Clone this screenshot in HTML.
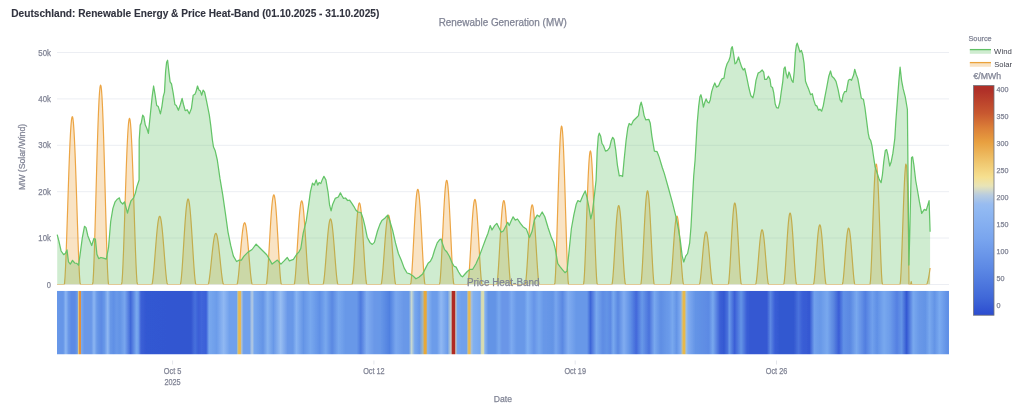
<!DOCTYPE html><html><head><meta charset="utf-8"><style>html,body{margin:0;padding:0;background:#fff;width:1024px;height:412px;overflow:hidden}svg{display:block;will-change:transform}</style></head><body><svg width="1024" height="412" viewBox="0 0 1024 412" font-family="Liberation Sans, sans-serif">
<defs><linearGradient id="hg" gradientUnits="userSpaceOnUse" x1="57" y1="0" x2="949" y2="0"><stop offset="0.00000" stop-color="#6898e8"/>
<stop offset="0.00336" stop-color="#6696e8"/>
<stop offset="0.00695" stop-color="#6696e8"/>
<stop offset="0.00987" stop-color="#8cb6f2"/>
<stop offset="0.01289" stop-color="#6a98e8"/>
<stop offset="0.01614" stop-color="#5c8ae4"/>
<stop offset="0.02018" stop-color="#5c8ae4"/>
<stop offset="0.02287" stop-color="#6a9ae8"/>
<stop offset="0.02388" stop-color="#e0d088"/>
<stop offset="0.02522" stop-color="#e09040"/>
<stop offset="0.02668" stop-color="#e09040"/>
<stop offset="0.02747" stop-color="#78a8ee"/>
<stop offset="0.03061" stop-color="#6a98e8"/>
<stop offset="0.03845" stop-color="#6a98e8"/>
<stop offset="0.04148" stop-color="#8cb6f2"/>
<stop offset="0.04484" stop-color="#6898e8"/>
<stop offset="0.04966" stop-color="#5c8ae4"/>
<stop offset="0.05325" stop-color="#6898e8"/>
<stop offset="0.05684" stop-color="#90b8f2"/>
<stop offset="0.05998" stop-color="#6898e8"/>
<stop offset="0.06345" stop-color="#6090e6"/>
<stop offset="0.06670" stop-color="#6898e8"/>
<stop offset="0.07063" stop-color="#6494e6"/>
<stop offset="0.07590" stop-color="#78a6ee"/>
<stop offset="0.08251" stop-color="#4068d8"/>
<stop offset="0.08901" stop-color="#78a8ee"/>
<stop offset="0.09103" stop-color="#70a0ec"/>
<stop offset="0.09417" stop-color="#3c60d6"/>
<stop offset="0.09955" stop-color="#3358d2"/>
<stop offset="0.15022" stop-color="#3356d0"/>
<stop offset="0.15471" stop-color="#4670dc"/>
<stop offset="0.15863" stop-color="#3a5ed6"/>
<stop offset="0.16200" stop-color="#4066da"/>
<stop offset="0.16715" stop-color="#3a60d8"/>
<stop offset="0.17052" stop-color="#78a8ee"/>
<stop offset="0.17904" stop-color="#6c9cea"/>
<stop offset="0.18688" stop-color="#90b8f2"/>
<stop offset="0.19350" stop-color="#70a0ec"/>
<stop offset="0.20135" stop-color="#70a0ec"/>
<stop offset="0.20269" stop-color="#c0c8a0"/>
<stop offset="0.20370" stop-color="#e8b850"/>
<stop offset="0.20561" stop-color="#e8b850"/>
<stop offset="0.20695" stop-color="#a8c0d8"/>
<stop offset="0.20919" stop-color="#70a0ec"/>
<stop offset="0.21581" stop-color="#70a0ec"/>
<stop offset="0.21872" stop-color="#b8cce0"/>
<stop offset="0.22108" stop-color="#78a8ee"/>
<stop offset="0.23094" stop-color="#6494e6"/>
<stop offset="0.23621" stop-color="#88b4f0"/>
<stop offset="0.24271" stop-color="#6898e8"/>
<stop offset="0.25067" stop-color="#98bef2"/>
<stop offset="0.25852" stop-color="#6a98e8"/>
<stop offset="0.26446" stop-color="#6898e8"/>
<stop offset="0.26839" stop-color="#88b4f2"/>
<stop offset="0.27623" stop-color="#6494e6"/>
<stop offset="0.28408" stop-color="#78a8ee"/>
<stop offset="0.29462" stop-color="#6090e6"/>
<stop offset="0.30123" stop-color="#78a8ee"/>
<stop offset="0.30841" stop-color="#5a88e2"/>
<stop offset="0.31570" stop-color="#78a8ee"/>
<stop offset="0.32354" stop-color="#6898e8"/>
<stop offset="0.33599" stop-color="#6898e8"/>
<stop offset="0.34058" stop-color="#4e7ade"/>
<stop offset="0.34720" stop-color="#80acf0"/>
<stop offset="0.35572" stop-color="#6a98e8"/>
<stop offset="0.36222" stop-color="#6898e8"/>
<stop offset="0.37276" stop-color="#5080e0"/>
<stop offset="0.38004" stop-color="#78a6ee"/>
<stop offset="0.38857" stop-color="#6a98e8"/>
<stop offset="0.39451" stop-color="#6898e8"/>
<stop offset="0.39742" stop-color="#c8d8d0"/>
<stop offset="0.40101" stop-color="#78a8ee"/>
<stop offset="0.40628" stop-color="#6898e8"/>
<stop offset="0.41020" stop-color="#a0b8c0"/>
<stop offset="0.41188" stop-color="#e8a838"/>
<stop offset="0.41379" stop-color="#e8a838"/>
<stop offset="0.41547" stop-color="#88b4f0"/>
<stop offset="0.42074" stop-color="#6c9cea"/>
<stop offset="0.42601" stop-color="#6c9cea"/>
<stop offset="0.43061" stop-color="#90b8f2"/>
<stop offset="0.43778" stop-color="#6c9cea"/>
<stop offset="0.44170" stop-color="#c8d4c8"/>
<stop offset="0.44339" stop-color="#b02a22"/>
<stop offset="0.44596" stop-color="#b02a22"/>
<stop offset="0.44697" stop-color="#c8c8c0"/>
<stop offset="0.44899" stop-color="#78a8ee"/>
<stop offset="0.45359" stop-color="#70a0ec"/>
<stop offset="0.45919" stop-color="#70a0ec"/>
<stop offset="0.46054" stop-color="#c0c0a0"/>
<stop offset="0.46155" stop-color="#e8b850"/>
<stop offset="0.46312" stop-color="#e8b850"/>
<stop offset="0.46413" stop-color="#a8c0d8"/>
<stop offset="0.46704" stop-color="#80b0f0"/>
<stop offset="0.47433" stop-color="#78a8ee"/>
<stop offset="0.47601" stop-color="#d8dcb0"/>
<stop offset="0.47825" stop-color="#d8dcb0"/>
<stop offset="0.47960" stop-color="#88b4f0"/>
<stop offset="0.48352" stop-color="#6494e6"/>
<stop offset="0.49137" stop-color="#6494e6"/>
<stop offset="0.49552" stop-color="#78a8ee"/>
<stop offset="0.49888" stop-color="#6a96e8"/>
<stop offset="0.50561" stop-color="#6a96e8"/>
<stop offset="0.50953" stop-color="#7caaf0"/>
<stop offset="0.51536" stop-color="#6898e8"/>
<stop offset="0.52388" stop-color="#6898e8"/>
<stop offset="0.52769" stop-color="#80b0f2"/>
<stop offset="0.53475" stop-color="#6694e8"/>
<stop offset="0.54036" stop-color="#78a8ee"/>
<stop offset="0.54552" stop-color="#6898e8"/>
<stop offset="0.55605" stop-color="#6494e6"/>
<stop offset="0.55930" stop-color="#78a6ee"/>
<stop offset="0.56659" stop-color="#5a88e2"/>
<stop offset="0.57309" stop-color="#80acf0"/>
<stop offset="0.58229" stop-color="#6898e8"/>
<stop offset="0.59417" stop-color="#6898e8"/>
<stop offset="0.59809" stop-color="#3e66d8"/>
<stop offset="0.60471" stop-color="#78a8ee"/>
<stop offset="0.61188" stop-color="#5e8ce4"/>
<stop offset="0.61648" stop-color="#6494e6"/>
<stop offset="0.62040" stop-color="#5c8ae4"/>
<stop offset="0.62365" stop-color="#78a8ee"/>
<stop offset="0.62892" stop-color="#5a88e2"/>
<stop offset="0.63554" stop-color="#80acf0"/>
<stop offset="0.64271" stop-color="#6090e6"/>
<stop offset="0.64933" stop-color="#4268da"/>
<stop offset="0.65583" stop-color="#6898e8"/>
<stop offset="0.66379" stop-color="#4a72dc"/>
<stop offset="0.66973" stop-color="#78a8ee"/>
<stop offset="0.67691" stop-color="#5f8ee4"/>
<stop offset="0.68352" stop-color="#6898e8"/>
<stop offset="0.68610" stop-color="#6a9aea"/>
<stop offset="0.69002" stop-color="#78a8ee"/>
<stop offset="0.69462" stop-color="#6494e6"/>
<stop offset="0.69922" stop-color="#80acf0"/>
<stop offset="0.70090" stop-color="#c0c0a0"/>
<stop offset="0.70191" stop-color="#e8b848"/>
<stop offset="0.70381" stop-color="#e8b848"/>
<stop offset="0.70516" stop-color="#a0c0e0"/>
<stop offset="0.70774" stop-color="#80acf0"/>
<stop offset="0.71570" stop-color="#6494e6"/>
<stop offset="0.73072" stop-color="#5c8ae4"/>
<stop offset="0.73531" stop-color="#78a8ee"/>
<stop offset="0.74327" stop-color="#3c60d6"/>
<stop offset="0.74787" stop-color="#3358d2"/>
<stop offset="0.75179" stop-color="#4a72dc"/>
<stop offset="0.75370" stop-color="#6898e8"/>
<stop offset="0.75964" stop-color="#3a5ed6"/>
<stop offset="0.76693" stop-color="#6494e6"/>
<stop offset="0.77343" stop-color="#3a5ed6"/>
<stop offset="0.77735" stop-color="#3558d2"/>
<stop offset="0.79574" stop-color="#3558d2"/>
<stop offset="0.79978" stop-color="#5c88e2"/>
<stop offset="0.80493" stop-color="#3a5ed6"/>
<stop offset="0.81020" stop-color="#3358d0"/>
<stop offset="0.82601" stop-color="#3358d0"/>
<stop offset="0.83128" stop-color="#4a72dc"/>
<stop offset="0.83587" stop-color="#3a5ed6"/>
<stop offset="0.84372" stop-color="#3558d2"/>
<stop offset="0.84899" stop-color="#70a0ec"/>
<stop offset="0.85549" stop-color="#6898e8"/>
<stop offset="0.86345" stop-color="#78a8ee"/>
<stop offset="0.87063" stop-color="#5a86e0"/>
<stop offset="0.87657" stop-color="#3a5ed6"/>
<stop offset="0.88184" stop-color="#6090e6"/>
<stop offset="0.88901" stop-color="#5a88e2"/>
<stop offset="0.89630" stop-color="#78a8ee"/>
<stop offset="0.90617" stop-color="#527ee0"/>
<stop offset="0.91401" stop-color="#70a0ec"/>
<stop offset="0.91928" stop-color="#6090e6"/>
<stop offset="0.92713" stop-color="#78a8ee"/>
<stop offset="0.93374" stop-color="#6c9cea"/>
<stop offset="0.94159" stop-color="#5580e2"/>
<stop offset="0.94686" stop-color="#6494e6"/>
<stop offset="0.95247" stop-color="#3358d2"/>
<stop offset="0.95987" stop-color="#78a8ee"/>
<stop offset="0.96670" stop-color="#6898e8"/>
<stop offset="0.97354" stop-color="#6494e6"/>
<stop offset="0.97814" stop-color="#78a8ee"/>
<stop offset="0.98386" stop-color="#6494e6"/>
<stop offset="0.98946" stop-color="#7aaaf0"/>
<stop offset="0.99798" stop-color="#6090e6"/>
<stop offset="1.00000" stop-color="#6090e6"/></linearGradient>
<filter id="hb" x="-0.02" y="0" width="1.04" height="1"><feGaussianBlur stdDeviation="0.4 0"/></filter><linearGradient id="cg" x1="0" y1="0" x2="0" y2="1"><stop offset="0.0000" stop-color="#b03028"/>
<stop offset="0.0208" stop-color="#b03028"/>
<stop offset="0.1207" stop-color="#c85830"/>
<stop offset="0.1858" stop-color="#dc8038"/>
<stop offset="0.2466" stop-color="#e8a040"/>
<stop offset="0.3378" stop-color="#f0c870"/>
<stop offset="0.3986" stop-color="#f6e090"/>
<stop offset="0.4377" stop-color="#e8e4b8"/>
<stop offset="0.4768" stop-color="#b8cce0"/>
<stop offset="0.5158" stop-color="#98bcf0"/>
<stop offset="0.5445" stop-color="#90b8f2"/>
<stop offset="0.6722" stop-color="#78a4ee"/>
<stop offset="0.7981" stop-color="#5c88e4"/>
<stop offset="0.9240" stop-color="#4068d8"/>
<stop offset="1.0000" stop-color="#2c4ccf"/></linearGradient></defs>
<rect width="1024" height="412" fill="#fff"/>
<line x1="57" y1="52.5" x2="949" y2="52.5" stroke="#eceef3" stroke-width="1"/>
<line x1="57" y1="98.9" x2="949" y2="98.9" stroke="#eceef3" stroke-width="1"/>
<line x1="57" y1="145.3" x2="949" y2="145.3" stroke="#eceef3" stroke-width="1"/>
<line x1="57" y1="191.7" x2="949" y2="191.7" stroke="#eceef3" stroke-width="1"/>
<line x1="57" y1="238.0" x2="949" y2="238.0" stroke="#eceef3" stroke-width="1"/>
<line x1="57" y1="284.5" x2="949" y2="284.5" stroke="#eceef3" stroke-width="1"/>
<text x="38.30" y="55.60" font-size="8.4" font-weight="normal" fill="#808495" stroke="#808495" stroke-width="0.25" textLength="12.60" lengthAdjust="spacingAndGlyphs">50k</text>
<text x="38.30" y="102.00" font-size="8.4" font-weight="normal" fill="#808495" stroke="#808495" stroke-width="0.25" textLength="12.60" lengthAdjust="spacingAndGlyphs">40k</text>
<text x="38.30" y="148.40" font-size="8.4" font-weight="normal" fill="#808495" stroke="#808495" stroke-width="0.25" textLength="12.60" lengthAdjust="spacingAndGlyphs">30k</text>
<text x="38.30" y="194.80" font-size="8.4" font-weight="normal" fill="#808495" stroke="#808495" stroke-width="0.25" textLength="12.60" lengthAdjust="spacingAndGlyphs">20k</text>
<text x="38.30" y="241.10" font-size="8.4" font-weight="normal" fill="#808495" stroke="#808495" stroke-width="0.25" textLength="12.60" lengthAdjust="spacingAndGlyphs">10k</text>
<text x="46.70" y="287.60" font-size="8.4" font-weight="normal" fill="#808495" stroke="#808495" stroke-width="0.25" textLength="4.20" lengthAdjust="spacingAndGlyphs">0</text>
<clipPath id="pc"><rect x="56" y="30" width="894" height="254.6"/></clipPath><g clip-path="url(#pc)">
<path d="M57.0,284.5 L57.0,284.5 57.5,284.5 58.0,284.5 58.5,284.5 59.0,284.5 59.5,284.5 60.0,284.5 60.5,284.5 61.0,284.5 61.5,284.5 62.0,284.5 62.5,284.5 63.0,284.5 63.5,284.5 64.0,284.5 64.5,283.6 65.0,277.5 65.5,268.1 66.0,256.3 66.5,242.8 67.0,228.1 67.5,212.7 68.0,197.2 68.5,182.0 69.0,167.6 69.5,154.3 70.0,142.6 70.5,132.8 71.0,125.1 71.5,119.8 72.0,117.0 72.5,116.7 73.0,119.0 73.5,123.9 74.0,131.1 74.5,140.5 75.0,151.8 75.5,164.8 76.0,179.0 76.5,194.1 77.0,209.6 77.5,225.0 78.0,239.9 78.5,253.7 79.0,265.9 79.5,275.9 80.0,282.7 80.5,284.5 81.0,284.5 81.5,284.5 82.0,284.5 82.5,284.5 83.0,284.5 83.5,284.5 84.0,284.5 84.5,284.5 85.0,284.5 85.5,284.5 86.0,284.5 86.5,284.5 87.0,284.5 87.5,284.5 88.0,284.5 88.5,284.5 89.0,284.5 89.5,284.5 90.0,284.5 90.5,284.5 91.0,284.5 91.5,284.5 92.0,284.5 92.5,284.5 93.0,281.9 93.5,273.4 94.0,261.2 94.5,246.4 95.0,229.7 95.5,211.8 96.0,193.3 96.5,174.7 97.0,156.8 97.5,140.0 98.0,124.7 98.5,111.5 99.0,100.6 99.5,92.5 100.0,87.2 100.5,85.1 101.0,86.0 101.5,90.0 102.0,97.0 102.5,106.8 103.0,119.2 103.5,133.7 104.0,149.9 104.5,167.5 105.0,185.8 105.5,204.4 106.0,222.6 106.5,239.9 107.0,255.6 107.5,268.9 108.0,279.0 108.5,284.4 109.0,284.5 109.5,284.5 110.0,284.5 110.5,284.5 111.0,284.5 111.5,284.5 112.0,284.5 112.5,284.5 113.0,284.5 113.5,284.5 114.0,284.5 114.5,284.5 115.0,284.5 115.5,284.5 116.0,284.5 116.5,284.5 117.0,284.5 117.5,284.5 118.0,284.5 118.5,284.5 119.0,284.5 119.5,284.5 120.0,284.5 120.5,284.5 121.0,284.5 121.5,284.5 122.0,281.9 122.5,274.5 123.0,264.0 123.5,251.4 124.0,237.3 124.5,222.1 125.0,206.5 125.5,191.0 126.0,176.1 126.5,162.1 127.0,149.5 127.5,138.7 128.0,130.0 128.5,123.5 129.0,119.6 129.5,118.3 130.0,119.6 130.5,123.5 131.0,130.0 131.5,138.7 132.0,149.5 132.5,162.1 133.0,176.1 133.5,191.0 134.0,206.5 134.5,222.1 135.0,237.3 135.5,251.4 136.0,264.0 136.5,274.5 137.0,281.9 137.5,284.5 138.0,284.5 138.5,284.5 139.0,284.5 139.5,284.5 140.0,284.5 140.5,284.5 141.0,284.5 141.5,284.5 142.0,284.5 142.5,284.5 143.0,284.5 143.5,284.5 144.0,284.5 144.5,284.5 145.0,284.5 145.5,284.5 146.0,284.5 146.5,284.5 147.0,284.5 147.5,284.5 148.0,284.5 148.5,284.5 149.0,284.5 149.5,284.5 150.0,284.5 150.5,284.5 151.0,284.5 151.5,284.5 152.0,284.4 152.5,282.2 153.0,278.4 153.5,273.6 154.0,268.0 154.5,261.9 155.0,255.5 155.5,249.1 156.0,242.7 156.5,236.7 157.0,231.2 157.5,226.4 158.0,222.4 158.5,219.3 159.0,217.3 159.5,216.3 160.0,216.4 160.5,217.6 161.0,219.9 161.5,223.2 162.0,227.3 162.5,232.3 163.0,237.9 163.5,244.0 164.0,250.4 164.5,256.8 165.0,263.2 165.5,269.2 166.0,274.6 166.5,279.3 167.0,282.7 167.5,284.5 168.0,284.5 168.5,284.5 169.0,284.5 169.5,284.5 170.0,284.5 170.5,284.5 171.0,284.5 171.5,284.5 172.0,284.5 172.5,284.5 173.0,284.5 173.5,284.5 174.0,284.5 174.5,284.5 175.0,284.5 175.5,284.5 176.0,284.5 176.5,284.5 177.0,284.5 177.5,284.5 178.0,284.5 178.5,284.5 179.0,284.5 179.5,284.5 180.0,284.5 180.5,284.2 181.0,281.3 181.5,276.4 182.0,270.2 182.5,263.1 183.0,255.3 183.5,247.2 184.0,239.1 184.5,231.1 185.0,223.6 185.5,216.8 186.0,210.9 186.5,206.0 187.0,202.4 187.5,200.0 188.0,199.0 188.5,199.5 189.0,201.3 189.5,204.4 190.0,208.8 190.5,214.3 191.0,220.8 191.5,228.1 192.0,235.9 192.5,244.0 193.0,252.1 193.5,260.1 194.0,267.5 194.5,274.1 195.0,279.5 195.5,283.3 196.0,284.5 196.5,284.5 197.0,284.5 197.5,284.5 198.0,284.5 198.5,284.5 199.0,284.5 199.5,284.5 200.0,284.5 200.5,284.5 201.0,284.5 201.5,284.5 202.0,284.5 202.5,284.5 203.0,284.5 203.5,284.5 204.0,284.5 204.5,284.5 205.0,284.5 205.5,284.5 206.0,284.5 206.5,284.5 207.0,284.5 207.5,284.5 208.0,284.5 208.5,283.7 209.0,281.3 209.5,277.9 210.0,273.9 210.5,269.3 211.0,264.5 211.5,259.6 212.0,254.7 212.5,250.1 213.0,245.7 213.5,241.9 214.0,238.7 214.5,236.2 215.0,234.4 215.5,233.5 216.0,233.4 216.5,234.1 217.0,235.7 217.5,238.1 218.0,241.2 218.5,244.9 219.0,249.2 219.5,253.8 220.0,258.6 220.5,263.6 221.0,268.4 221.5,273.0 222.0,277.1 222.5,280.7 223.0,283.3 223.5,284.5 224.0,284.5 224.5,284.5 225.0,284.5 225.5,284.5 226.0,284.5 226.5,284.5 227.0,284.5 227.5,284.5 228.0,284.5 228.5,284.5 229.0,284.5 229.5,284.5 230.0,284.5 230.5,284.5 231.0,284.5 231.5,284.5 232.0,284.5 232.5,284.5 233.0,284.5 233.5,284.5 234.0,284.5 234.5,284.5 235.0,284.5 235.5,284.5 236.0,284.5 236.5,284.5 237.0,284.5 237.5,282.8 238.0,279.5 238.5,275.2 239.0,270.1 239.5,264.4 240.0,258.5 240.5,252.5 241.0,246.6 241.5,241.1 242.0,236.0 242.5,231.6 243.0,228.0 243.5,225.2 244.0,223.5 244.5,222.7 245.0,223.0 245.5,224.4 246.0,226.7 246.5,230.0 247.0,234.2 247.5,239.0 248.0,244.4 248.5,250.1 249.0,256.1 249.5,262.1 250.0,267.9 250.5,273.2 251.0,277.9 251.5,281.7 252.0,284.1 252.5,284.5 253.0,284.5 253.5,284.5 254.0,284.5 254.5,284.5 255.0,284.5 255.5,284.5 256.0,284.5 256.5,284.5 257.0,284.5 257.5,284.5 258.0,284.5 258.5,284.5 259.0,284.5 259.5,284.5 260.0,284.5 260.5,284.5 261.0,284.5 261.5,284.5 262.0,284.5 262.5,284.5 263.0,284.5 263.5,284.5 264.0,284.5 264.5,284.5 265.0,284.5 265.5,284.5 266.0,284.5 266.5,283.7 267.0,280.0 267.5,274.3 268.0,267.4 268.5,259.5 269.0,250.9 269.5,242.2 270.0,233.5 270.5,225.1 271.0,217.3 271.5,210.4 272.0,204.6 272.5,200.0 273.0,196.8 273.5,195.1 274.0,194.9 274.5,196.3 275.0,199.2 275.5,203.5 276.0,209.1 276.5,215.8 277.0,223.5 277.5,231.7 278.0,240.4 278.5,249.2 279.0,257.8 279.5,265.8 280.0,273.0 280.5,279.0 281.0,283.2 281.5,284.5 282.0,284.5 282.5,284.5 283.0,284.5 283.5,284.5 284.0,284.5 284.5,284.5 285.0,284.5 285.5,284.5 286.0,284.5 286.5,284.5 287.0,284.5 287.5,284.5 288.0,284.5 288.5,284.5 289.0,284.5 289.5,284.5 290.0,284.5 290.5,284.5 291.0,284.5 291.5,284.5 292.0,284.5 292.5,284.5 293.0,284.5 293.5,284.5 294.0,284.5 294.5,283.6 295.0,279.9 295.5,274.5 296.0,267.8 296.5,260.3 297.0,252.2 297.5,244.0 298.0,235.8 298.5,228.0 299.0,220.8 299.5,214.4 300.0,209.1 300.5,205.0 301.0,202.2 301.5,200.9 302.0,201.1 302.5,202.7 303.0,205.7 303.5,210.1 304.0,215.6 304.5,222.1 305.0,229.5 305.5,237.4 306.0,245.6 306.5,253.9 307.0,261.8 307.5,269.2 308.0,275.7 308.5,280.8 309.0,284.1 309.5,284.5 310.0,284.5 310.5,284.5 311.0,284.5 311.5,284.5 312.0,284.5 312.5,284.5 313.0,284.5 313.5,284.5 314.0,284.5 314.5,284.5 315.0,284.5 315.5,284.5 316.0,284.5 316.5,284.5 317.0,284.5 317.5,284.5 318.0,284.5 318.5,284.5 319.0,284.5 319.5,284.5 320.0,284.5 320.5,284.5 321.0,284.5 321.5,284.5 322.0,284.5 322.5,284.5 323.0,284.5 323.5,283.2 324.0,279.8 324.5,275.2 325.0,269.7 325.5,263.6 326.0,257.2 326.5,250.6 327.0,244.3 327.5,238.2 328.0,232.8 328.5,228.0 329.0,224.2 329.5,221.3 330.0,219.6 330.5,219.0 331.0,219.6 331.5,221.3 332.0,224.2 332.5,228.0 333.0,232.8 333.5,238.2 334.0,244.3 334.5,250.6 335.0,257.2 335.5,263.6 336.0,269.7 336.5,275.2 337.0,279.8 337.5,283.2 338.0,284.5 338.5,284.5 339.0,284.5 339.5,284.5 340.0,284.5 340.5,284.5 341.0,284.5 341.5,284.5 342.0,284.5 342.5,284.5 343.0,284.5 343.5,284.5 344.0,284.5 344.5,284.5 345.0,284.5 345.5,284.5 346.0,284.5 346.5,284.5 347.0,284.5 347.5,284.5 348.0,284.5 348.5,284.5 349.0,284.5 349.5,284.5 350.0,284.5 350.5,284.5 351.0,284.5 351.5,284.5 352.0,284.5 352.5,282.6 353.0,278.2 353.5,272.3 354.0,265.3 354.5,257.6 355.0,249.5 355.5,241.3 356.0,233.3 356.5,225.8 357.0,219.0 357.5,213.3 358.0,208.6 358.5,205.3 359.0,203.4 359.5,202.9 360.0,204.0 360.5,206.5 361.0,210.3 361.5,215.4 362.0,221.6 362.5,228.7 363.0,236.4 363.5,244.5 364.0,252.7 364.5,260.7 365.0,268.2 365.5,274.8 366.0,280.2 366.5,283.7 367.0,284.5 367.5,284.5 368.0,284.5 368.5,284.5 369.0,284.5 369.5,284.5 370.0,284.5 370.5,284.5 371.0,284.5 371.5,284.5 372.0,284.5 372.5,284.5 373.0,284.5 373.5,284.5 374.0,284.5 374.5,284.5 375.0,284.5 375.5,284.5 376.0,284.5 376.5,284.5 377.0,284.5 377.5,284.5 378.0,284.5 378.5,284.5 379.0,284.5 379.5,284.5 380.0,284.5 380.5,284.5 381.0,284.5 381.5,283.2 382.0,279.6 382.5,274.7 383.0,268.8 383.5,262.2 384.0,255.3 384.5,248.2 385.0,241.3 385.5,234.9 386.0,229.1 386.5,224.1 387.0,220.1 387.5,217.2 388.0,215.5 388.5,215.1 389.0,216.0 389.5,218.2 390.0,221.5 390.5,225.9 391.0,231.3 391.5,237.4 392.0,244.1 392.5,251.0 393.0,258.1 393.5,264.9 394.0,271.2 394.5,276.8 395.0,281.3 395.5,284.1 396.0,284.5 396.5,284.5 397.0,284.5 397.5,284.5 398.0,284.5 398.5,284.5 399.0,284.5 399.5,284.5 400.0,284.5 400.5,284.5 401.0,284.5 401.5,284.5 402.0,284.5 402.5,284.5 403.0,284.5 403.5,284.5 404.0,284.5 404.5,284.5 405.0,284.5 405.5,284.5 406.0,284.5 406.5,284.5 407.0,284.5 407.5,284.5 408.0,284.5 408.5,284.5 409.0,284.5 409.5,284.5 410.0,284.5 410.5,284.5 411.0,282.4 411.5,277.3 412.0,270.3 412.5,262.0 413.0,252.8 413.5,243.2 414.0,233.5 414.5,224.0 415.0,215.2 415.5,207.3 416.0,200.6 416.5,195.3 417.0,191.6 417.5,189.6 418.0,189.4 418.5,191.1 419.0,194.4 419.5,199.4 420.0,205.8 420.5,213.5 421.0,222.2 421.5,231.5 422.0,241.2 422.5,250.9 423.0,260.2 423.5,268.8 424.0,276.1 424.5,281.6 425.0,284.5 425.5,284.5 426.0,284.5 426.5,284.5 427.0,284.5 427.5,284.5 428.0,284.5 428.5,284.5 429.0,284.5 429.5,284.5 430.0,284.5 430.5,284.5 431.0,284.5 431.5,284.5 432.0,284.5 432.5,284.5 433.0,284.5 433.5,284.5 434.0,284.5 434.5,284.5 435.0,284.5 435.5,284.5 436.0,284.5 436.5,284.5 437.0,284.5 437.5,284.5 438.0,284.5 438.5,284.5 439.0,284.5 439.5,284.5 440.0,281.9 440.5,276.0 441.0,268.2 441.5,258.9 442.0,248.6 442.5,237.9 443.0,227.2 443.5,216.8 444.0,207.2 444.5,198.6 445.0,191.4 445.5,185.9 446.0,182.2 446.5,180.4 447.0,180.6 447.5,182.8 448.0,186.9 448.5,192.8 449.0,200.2 449.5,209.0 450.0,218.8 450.5,229.3 451.0,240.1 451.5,250.7 452.0,260.8 452.5,269.9 453.0,277.4 453.5,282.7 454.0,284.5 454.5,284.5 455.0,284.5 455.5,284.5 456.0,284.5 456.5,284.5 457.0,284.5 457.5,284.5 458.0,284.5 458.5,284.5 459.0,284.5 459.5,284.5 460.0,284.5 460.5,284.5 461.0,284.5 461.5,284.5 462.0,284.5 462.5,284.5 463.0,284.5 463.5,284.5 464.0,284.5 464.5,284.5 465.0,284.5 465.5,284.5 466.0,284.5 466.5,284.5 467.0,284.5 467.5,284.5 468.0,284.0 468.5,280.3 469.0,274.6 469.5,267.5 470.0,259.4 470.5,250.7 471.0,241.9 471.5,233.1 472.0,224.9 472.5,217.4 473.0,211.0 473.5,205.8 474.0,202.1 474.5,199.9 475.0,199.4 475.5,200.6 476.0,203.4 476.5,207.7 477.0,213.4 477.5,220.3 478.0,228.1 478.5,236.6 479.0,245.4 479.5,254.2 480.0,262.7 480.5,270.5 481.0,277.1 481.5,282.1 482.0,284.5 482.5,284.5 483.0,284.5 483.5,284.5 484.0,284.5 484.5,284.5 485.0,284.5 485.5,284.5 486.0,284.5 486.5,284.5 487.0,284.5 487.5,284.5 488.0,284.5 488.5,284.5 489.0,284.5 489.5,284.5 490.0,284.5 490.5,284.5 491.0,284.5 491.5,284.5 492.0,284.5 492.5,284.5 493.0,284.5 493.5,284.5 494.0,284.5 494.5,284.5 495.0,284.5 495.5,284.5 496.0,284.5 496.5,284.5 497.0,283.8 497.5,280.0 498.0,274.1 498.5,266.9 499.0,258.8 499.5,250.1 500.0,241.3 500.5,232.6 501.0,224.5 501.5,217.2 502.0,211.0 502.5,206.1 503.0,202.6 503.5,200.8 504.0,200.6 504.5,202.1 505.0,205.3 505.5,209.9 506.0,215.9 506.5,223.0 507.0,230.9 507.5,239.5 508.0,248.3 508.5,257.1 509.0,265.4 509.5,272.8 510.0,278.9 510.5,283.2 511.0,284.5 511.5,284.5 512.0,284.5 512.5,284.5 513.0,284.5 513.5,284.5 514.0,284.5 514.5,284.5 515.0,284.5 515.5,284.5 516.0,284.5 516.5,284.5 517.0,284.5 517.5,284.5 518.0,284.5 518.5,284.5 519.0,284.5 519.5,284.5 520.0,284.5 520.5,284.5 521.0,284.5 521.5,284.5 522.0,284.5 522.5,284.5 523.0,284.5 523.5,284.5 524.0,284.5 524.5,284.5 525.0,284.5 525.5,283.6 526.0,279.8 526.5,274.1 527.0,267.1 527.5,259.2 528.0,250.8 528.5,242.4 529.0,234.2 529.5,226.5 530.0,219.6 530.5,213.9 531.0,209.4 531.5,206.4 532.0,204.9 532.5,205.1 533.0,206.9 533.5,210.2 534.0,214.9 534.5,220.9 535.0,228.0 535.5,235.8 536.0,244.1 536.5,252.5 537.0,260.8 537.5,268.5 538.0,275.3 538.5,280.7 539.0,284.1 539.5,284.5 540.0,284.5 540.5,284.5 541.0,284.5 541.5,284.5 542.0,284.5 542.5,284.5 543.0,284.5 543.5,284.5 544.0,284.5 544.5,284.5 545.0,284.5 545.5,284.5 546.0,284.5 546.5,284.5 547.0,284.5 547.5,284.5 548.0,284.5 548.5,284.5 549.0,284.5 549.5,284.5 550.0,284.5 550.5,284.5 551.0,284.5 551.5,284.5 552.0,284.5 552.5,284.5 553.0,284.5 553.5,284.5 554.0,284.5 554.5,284.5 555.0,282.4 555.5,274.3 556.0,262.5 556.5,248.2 557.0,232.3 557.5,215.5 558.0,198.5 558.5,182.1 559.0,166.9 559.5,153.4 560.0,142.2 560.5,133.8 561.0,128.3 561.5,126.0 562.0,127.0 562.5,131.2 563.0,138.5 563.5,148.6 564.0,161.2 564.5,175.8 565.0,191.8 565.5,208.7 566.0,225.6 566.5,242.0 567.0,257.1 567.5,269.9 568.0,279.7 568.5,284.5 569.0,284.5 569.5,284.5 570.0,284.5 570.5,284.5 571.0,284.5 571.5,284.5 572.0,284.5 572.5,284.5 573.0,284.5 573.5,284.5 574.0,284.5 574.5,284.5 575.0,284.5 575.5,284.5 576.0,284.5 576.5,284.5 577.0,284.5 577.5,284.5 578.0,284.5 578.5,284.5 579.0,284.5 579.5,284.5 580.0,284.5 580.5,284.5 581.0,284.5 581.5,284.5 582.0,284.5 582.5,284.5 583.0,284.5 583.5,284.5 584.0,281.2 584.5,273.3 585.0,262.6 585.5,249.9 586.0,236.1 586.5,221.6 587.0,207.3 587.5,193.6 588.0,181.1 588.5,170.3 589.0,161.6 589.5,155.3 590.0,151.7 590.5,150.9 591.0,152.8 591.5,157.5 592.0,164.8 592.5,174.4 593.0,185.9 593.5,199.0 594.0,213.0 594.5,227.4 595.0,241.7 595.5,255.2 596.0,267.1 596.5,276.9 597.0,283.3 597.5,284.5 598.0,284.5 598.5,284.5 599.0,284.5 599.5,284.5 600.0,284.5 600.5,284.5 601.0,284.5 601.5,284.5 602.0,284.5 602.5,284.5 603.0,284.5 603.5,284.5 604.0,284.5 604.5,284.5 605.0,284.5 605.5,284.5 606.0,284.5 606.5,284.5 607.0,284.5 607.5,284.5 608.0,284.5 608.5,284.5 609.0,284.5 609.5,284.5 610.0,284.5 610.5,284.5 611.0,284.5 611.5,284.5 612.0,284.4 612.5,281.5 613.0,276.2 613.5,269.4 614.0,261.6 614.5,253.2 615.0,244.5 615.5,236.1 616.0,228.1 616.5,221.0 617.0,215.0 617.5,210.3 618.0,207.2 618.5,205.6 619.0,205.8 619.5,207.7 620.0,211.1 620.5,216.1 621.0,222.4 621.5,229.7 622.0,237.7 622.5,246.3 623.0,254.9 623.5,263.2 624.0,270.9 624.5,277.4 625.0,282.3 625.5,284.5 626.0,284.5 626.5,284.5 627.0,284.5 627.5,284.5 628.0,284.5 628.5,284.5 629.0,284.5 629.5,284.5 630.0,284.5 630.5,284.5 631.0,284.5 631.5,284.5 632.0,284.5 632.5,284.5 633.0,284.5 633.5,284.5 634.0,284.5 634.5,284.5 635.0,284.5 635.5,284.5 636.0,284.5 636.5,284.5 637.0,284.5 637.5,284.5 638.0,284.5 638.5,284.5 639.0,284.5 639.5,284.5 640.0,284.5 640.5,284.5 641.0,283.8 641.5,279.3 642.0,272.4 642.5,263.9 643.0,254.3 643.5,244.0 644.0,233.7 644.5,223.8 645.0,214.5 645.5,206.4 646.0,199.8 646.5,194.9 647.0,191.8 647.5,190.8 648.0,191.8 648.5,194.9 649.0,199.8 649.5,206.4 650.0,214.5 650.5,223.8 651.0,233.7 651.5,244.0 652.0,254.3 652.5,263.9 653.0,272.4 653.5,279.3 654.0,283.8 654.5,284.5 655.0,284.5 655.5,284.5 656.0,284.5 656.5,284.5 657.0,284.5 657.5,284.5 658.0,284.5 658.5,284.5 659.0,284.5 659.5,284.5 660.0,284.5 660.5,284.5 661.0,284.5 661.5,284.5 662.0,284.5 662.5,284.5 663.0,284.5 663.5,284.5 664.0,284.5 664.5,284.5 665.0,284.5 665.5,284.5 666.0,284.5 666.5,284.5 667.0,284.5 667.5,284.5 668.0,284.5 668.5,284.5 669.0,284.5 669.5,284.5 670.0,284.5 670.5,283.8 671.0,280.4 671.5,275.2 672.0,268.8 672.5,261.6 673.0,254.0 673.5,246.4 674.0,239.2 674.5,232.5 675.0,226.7 675.5,222.0 676.0,218.6 676.5,216.6 677.0,216.1 677.5,217.2 678.0,219.8 678.5,223.7 679.0,228.9 679.5,235.1 680.0,242.0 680.5,249.5 681.0,257.1 681.5,264.5 682.0,271.4 682.5,277.4 683.0,282.0 683.5,284.5 684.0,284.5 684.5,284.5 685.0,284.5 685.5,284.5 686.0,284.5 686.5,284.5 687.0,284.5 687.5,284.5 688.0,284.5 688.5,284.5 689.0,284.5 689.5,284.5 690.0,284.5 690.5,284.5 691.0,284.5 691.5,284.5 692.0,284.5 692.5,284.5 693.0,284.5 693.5,284.5 694.0,284.5 694.5,284.5 695.0,284.5 695.5,284.5 696.0,284.5 696.5,284.5 697.0,284.5 697.5,284.5 698.0,284.5 698.5,284.5 699.0,284.5 699.5,284.4 700.0,282.3 700.5,278.7 701.0,273.9 701.5,268.5 702.0,262.7 702.5,256.7 703.0,251.0 703.5,245.6 704.0,240.9 704.5,237.1 705.0,234.2 705.5,232.4 706.0,231.8 706.5,232.4 707.0,234.2 707.5,237.1 708.0,240.9 708.5,245.6 709.0,251.0 709.5,256.7 710.0,262.7 710.5,268.5 711.0,273.9 711.5,278.7 712.0,282.3 712.5,284.4 713.0,284.5 713.5,284.5 714.0,284.5 714.5,284.5 715.0,284.5 715.5,284.5 716.0,284.5 716.5,284.5 717.0,284.5 717.5,284.5 718.0,284.5 718.5,284.5 719.0,284.5 719.5,284.5 720.0,284.5 720.5,284.5 721.0,284.5 721.5,284.5 722.0,284.5 722.5,284.5 723.0,284.5 723.5,284.5 724.0,284.5 724.5,284.5 725.0,284.5 725.5,284.5 726.0,284.5 726.5,284.5 727.0,284.5 727.5,284.5 728.0,284.5 728.5,283.8 729.0,279.7 729.5,273.4 730.0,265.7 730.5,256.9 731.0,247.7 731.5,238.5 732.0,229.7 732.5,221.6 733.0,214.7 733.5,209.2 734.0,205.3 734.5,203.2 735.0,203.1 735.5,204.8 736.0,208.3 736.5,213.5 737.0,220.1 737.5,228.0 738.0,236.7 738.5,245.9 739.0,255.1 739.5,264.0 740.0,272.0 740.5,278.6 741.0,283.2 741.5,284.5 742.0,284.5 742.5,284.5 743.0,284.5 743.5,284.5 744.0,284.5 744.5,284.5 745.0,284.5 745.5,284.5 746.0,284.5 746.5,284.5 747.0,284.5 747.5,284.5 748.0,284.5 748.5,284.5 749.0,284.5 749.5,284.5 750.0,284.5 750.5,284.5 751.0,284.5 751.5,284.5 752.0,284.5 752.5,284.5 753.0,284.5 753.5,284.5 754.0,284.5 754.5,284.5 755.0,284.5 755.5,284.5 756.0,283.5 756.5,280.2 757.0,275.6 757.5,270.1 758.0,264.0 758.5,257.8 759.0,251.6 759.5,245.7 760.0,240.5 760.5,236.1 761.0,232.8 761.5,230.6 762.0,229.7 762.5,230.1 763.0,231.8 763.5,234.7 764.0,238.7 764.5,243.6 765.0,249.2 765.5,255.3 766.0,261.5 766.5,267.7 767.0,273.5 767.5,278.5 768.0,282.4 768.5,284.5 769.0,284.5 769.5,284.5 770.0,284.5 770.5,284.5 771.0,284.5 771.5,284.5 772.0,284.5 772.5,284.5 773.0,284.5 773.5,284.5 774.0,284.5 774.5,284.5 775.0,284.5 775.5,284.5 776.0,284.5 776.5,284.5 777.0,284.5 777.5,284.5 778.0,284.5 778.5,284.5 779.0,284.5 779.5,284.5 780.0,284.5 780.5,284.5 781.0,284.5 781.5,284.5 782.0,284.5 782.5,284.5 783.0,284.5 783.5,284.5 784.0,283.5 784.5,279.5 785.0,273.6 785.5,266.4 786.0,258.5 786.5,250.2 787.0,242.0 787.5,234.3 788.0,227.4 788.5,221.6 789.0,217.1 789.5,214.2 790.0,213.0 790.5,213.6 791.0,215.8 791.5,219.6 792.0,224.9 792.5,231.4 793.0,238.9 793.5,246.9 794.0,255.2 794.5,263.3 795.0,270.8 795.5,277.3 796.0,282.2 796.5,284.5 797.0,284.5 797.5,284.5 798.0,284.5 798.5,284.5 799.0,284.5 799.5,284.5 800.0,284.5 800.5,284.5 801.0,284.5 801.5,284.5 802.0,284.5 802.5,284.5 803.0,284.5 803.5,284.5 804.0,284.5 804.5,284.5 805.0,284.5 805.5,284.5 806.0,284.5 806.5,284.5 807.0,284.5 807.5,284.5 808.0,284.5 808.5,284.5 809.0,284.5 809.5,284.5 810.0,284.5 810.5,284.5 811.0,284.5 811.5,284.5 812.0,284.5 812.5,284.5 813.0,284.5 813.5,284.5 814.0,282.3 814.5,278.1 815.0,272.5 815.5,266.1 816.0,259.2 816.5,252.2 817.0,245.5 817.5,239.3 818.0,233.9 818.5,229.7 819.0,226.7 819.5,225.1 820.0,224.9 820.5,226.2 821.0,229.0 821.5,233.0 822.0,238.1 822.5,244.2 823.0,250.8 823.5,257.8 824.0,264.7 824.5,271.3 825.0,277.0 825.5,281.6 826.0,284.3 826.5,284.5 827.0,284.5 827.5,284.5 828.0,284.5 828.5,284.5 829.0,284.5 829.5,284.5 830.0,284.5 830.5,284.5 831.0,284.5 831.5,284.5 832.0,284.5 832.5,284.5 833.0,284.5 833.5,284.5 834.0,284.5 834.5,284.5 835.0,284.5 835.5,284.5 836.0,284.5 836.5,284.5 837.0,284.5 837.5,284.5 838.0,284.5 838.5,284.5 839.0,284.5 839.5,284.5 840.0,284.5 840.5,284.5 841.0,284.5 841.5,284.5 842.0,284.5 842.5,284.2 843.0,281.4 843.5,277.0 844.0,271.4 844.5,265.1 845.0,258.4 845.5,251.8 846.0,245.5 846.5,239.9 847.0,235.1 847.5,231.5 848.0,229.1 848.5,228.1 849.0,228.6 849.5,230.4 850.0,233.5 850.5,237.9 851.0,243.2 851.5,249.2 852.0,255.8 852.5,262.4 853.0,268.9 853.5,274.8 854.0,279.8 854.5,283.4 855.0,284.5 855.5,284.5 856.0,284.5 856.5,284.5 857.0,284.5 857.5,284.5 858.0,284.5 858.5,284.5 859.0,284.5 859.5,284.5 860.0,284.5 860.5,284.5 861.0,284.5 861.5,284.5 862.0,284.5 862.5,284.5 863.0,284.5 863.5,284.5 864.0,284.5 864.5,284.5 865.0,284.5 865.5,284.5 866.0,284.5 866.5,284.5 867.0,284.5 867.5,284.5 868.0,284.5 868.5,284.5 869.0,284.5 869.5,284.5 870.0,284.5 870.5,280.3 871.0,271.7 871.5,260.2 872.0,246.9 872.5,232.7 873.0,218.3 873.5,204.5 874.0,191.8 874.5,181.1 875.0,172.6 875.5,166.8 876.0,164.0 876.5,164.4 877.0,167.8 877.5,174.1 878.0,183.0 878.5,194.2 879.0,207.1 879.5,221.2 880.0,235.6 880.5,249.7 881.0,262.7 881.5,273.7 882.0,281.6 882.5,284.5 883.0,284.5 883.5,284.5 884.0,284.5 884.5,284.5 885.0,284.5 885.5,284.5 886.0,284.5 886.5,284.5 887.0,284.5 887.5,284.5 888.0,284.5 888.5,284.5 889.0,284.5 889.5,284.5 890.0,284.5 890.5,284.5 891.0,284.5 891.5,284.5 892.0,284.5 892.5,284.5 893.0,284.5 893.5,284.5 894.0,284.5 894.5,284.5 895.0,284.5 895.5,284.5 896.0,284.5 896.5,284.5 897.0,284.5 897.5,284.5 898.0,284.5 898.5,284.5 899.0,284.5 899.5,284.5 900.0,284.5 900.5,281.1 901.0,272.7 901.5,261.3 902.0,248.0 902.5,233.6 903.0,218.9 903.5,204.8 904.0,191.9 904.5,180.9 905.0,172.2 905.5,166.3 905.8,164.0 906.6,166.0 907.5,184.0 908.2,215.0 908.7,255.0 909.0,284.5 910.6,284.5 911.2,281.5 911.8,284.5 912.0,284.5 912.5,284.5 913.0,284.5 913.5,284.5 914.0,284.5 914.5,284.5 915.0,284.5 915.5,284.5 916.0,284.5 916.5,284.5 917.0,284.5 917.5,284.5 918.0,284.5 918.5,284.5 919.0,284.5 919.5,284.5 920.0,284.5 920.5,284.5 921.0,284.5 921.5,284.5 922.0,284.5 922.5,284.5 923.0,284.5 923.5,284.5 924.0,284.5 924.5,284.5 925.0,284.5 925.5,284.5 926.0,284.5 926.5,284.5 927.0,283.8 927.5,282.4 928.0,280.4 928.5,278.1 929.0,275.3 929.5,272.2 930.0,268.7 930.1,268.0 L930.1,284.5 Z" fill="rgba(235,162,58,0.3)" stroke="none"/>
<polyline points="57.0,284.5 57.5,284.5 58.0,284.5 58.5,284.5 59.0,284.5 59.5,284.5 60.0,284.5 60.5,284.5 61.0,284.5 61.5,284.5 62.0,284.5 62.5,284.5 63.0,284.5 63.5,284.5 64.0,284.5 64.5,283.6 65.0,277.5 65.5,268.1 66.0,256.3 66.5,242.8 67.0,228.1 67.5,212.7 68.0,197.2 68.5,182.0 69.0,167.6 69.5,154.3 70.0,142.6 70.5,132.8 71.0,125.1 71.5,119.8 72.0,117.0 72.5,116.7 73.0,119.0 73.5,123.9 74.0,131.1 74.5,140.5 75.0,151.8 75.5,164.8 76.0,179.0 76.5,194.1 77.0,209.6 77.5,225.0 78.0,239.9 78.5,253.7 79.0,265.9 79.5,275.9 80.0,282.7 80.5,284.5 81.0,284.5 81.5,284.5 82.0,284.5 82.5,284.5 83.0,284.5 83.5,284.5 84.0,284.5 84.5,284.5 85.0,284.5 85.5,284.5 86.0,284.5 86.5,284.5 87.0,284.5 87.5,284.5 88.0,284.5 88.5,284.5 89.0,284.5 89.5,284.5 90.0,284.5 90.5,284.5 91.0,284.5 91.5,284.5 92.0,284.5 92.5,284.5 93.0,281.9 93.5,273.4 94.0,261.2 94.5,246.4 95.0,229.7 95.5,211.8 96.0,193.3 96.5,174.7 97.0,156.8 97.5,140.0 98.0,124.7 98.5,111.5 99.0,100.6 99.5,92.5 100.0,87.2 100.5,85.1 101.0,86.0 101.5,90.0 102.0,97.0 102.5,106.8 103.0,119.2 103.5,133.7 104.0,149.9 104.5,167.5 105.0,185.8 105.5,204.4 106.0,222.6 106.5,239.9 107.0,255.6 107.5,268.9 108.0,279.0 108.5,284.4 109.0,284.5 109.5,284.5 110.0,284.5 110.5,284.5 111.0,284.5 111.5,284.5 112.0,284.5 112.5,284.5 113.0,284.5 113.5,284.5 114.0,284.5 114.5,284.5 115.0,284.5 115.5,284.5 116.0,284.5 116.5,284.5 117.0,284.5 117.5,284.5 118.0,284.5 118.5,284.5 119.0,284.5 119.5,284.5 120.0,284.5 120.5,284.5 121.0,284.5 121.5,284.5 122.0,281.9 122.5,274.5 123.0,264.0 123.5,251.4 124.0,237.3 124.5,222.1 125.0,206.5 125.5,191.0 126.0,176.1 126.5,162.1 127.0,149.5 127.5,138.7 128.0,130.0 128.5,123.5 129.0,119.6 129.5,118.3 130.0,119.6 130.5,123.5 131.0,130.0 131.5,138.7 132.0,149.5 132.5,162.1 133.0,176.1 133.5,191.0 134.0,206.5 134.5,222.1 135.0,237.3 135.5,251.4 136.0,264.0 136.5,274.5 137.0,281.9 137.5,284.5 138.0,284.5 138.5,284.5 139.0,284.5 139.5,284.5 140.0,284.5 140.5,284.5 141.0,284.5 141.5,284.5 142.0,284.5 142.5,284.5 143.0,284.5 143.5,284.5 144.0,284.5 144.5,284.5 145.0,284.5 145.5,284.5 146.0,284.5 146.5,284.5 147.0,284.5 147.5,284.5 148.0,284.5 148.5,284.5 149.0,284.5 149.5,284.5 150.0,284.5 150.5,284.5 151.0,284.5 151.5,284.5 152.0,284.4 152.5,282.2 153.0,278.4 153.5,273.6 154.0,268.0 154.5,261.9 155.0,255.5 155.5,249.1 156.0,242.7 156.5,236.7 157.0,231.2 157.5,226.4 158.0,222.4 158.5,219.3 159.0,217.3 159.5,216.3 160.0,216.4 160.5,217.6 161.0,219.9 161.5,223.2 162.0,227.3 162.5,232.3 163.0,237.9 163.5,244.0 164.0,250.4 164.5,256.8 165.0,263.2 165.5,269.2 166.0,274.6 166.5,279.3 167.0,282.7 167.5,284.5 168.0,284.5 168.5,284.5 169.0,284.5 169.5,284.5 170.0,284.5 170.5,284.5 171.0,284.5 171.5,284.5 172.0,284.5 172.5,284.5 173.0,284.5 173.5,284.5 174.0,284.5 174.5,284.5 175.0,284.5 175.5,284.5 176.0,284.5 176.5,284.5 177.0,284.5 177.5,284.5 178.0,284.5 178.5,284.5 179.0,284.5 179.5,284.5 180.0,284.5 180.5,284.2 181.0,281.3 181.5,276.4 182.0,270.2 182.5,263.1 183.0,255.3 183.5,247.2 184.0,239.1 184.5,231.1 185.0,223.6 185.5,216.8 186.0,210.9 186.5,206.0 187.0,202.4 187.5,200.0 188.0,199.0 188.5,199.5 189.0,201.3 189.5,204.4 190.0,208.8 190.5,214.3 191.0,220.8 191.5,228.1 192.0,235.9 192.5,244.0 193.0,252.1 193.5,260.1 194.0,267.5 194.5,274.1 195.0,279.5 195.5,283.3 196.0,284.5 196.5,284.5 197.0,284.5 197.5,284.5 198.0,284.5 198.5,284.5 199.0,284.5 199.5,284.5 200.0,284.5 200.5,284.5 201.0,284.5 201.5,284.5 202.0,284.5 202.5,284.5 203.0,284.5 203.5,284.5 204.0,284.5 204.5,284.5 205.0,284.5 205.5,284.5 206.0,284.5 206.5,284.5 207.0,284.5 207.5,284.5 208.0,284.5 208.5,283.7 209.0,281.3 209.5,277.9 210.0,273.9 210.5,269.3 211.0,264.5 211.5,259.6 212.0,254.7 212.5,250.1 213.0,245.7 213.5,241.9 214.0,238.7 214.5,236.2 215.0,234.4 215.5,233.5 216.0,233.4 216.5,234.1 217.0,235.7 217.5,238.1 218.0,241.2 218.5,244.9 219.0,249.2 219.5,253.8 220.0,258.6 220.5,263.6 221.0,268.4 221.5,273.0 222.0,277.1 222.5,280.7 223.0,283.3 223.5,284.5 224.0,284.5 224.5,284.5 225.0,284.5 225.5,284.5 226.0,284.5 226.5,284.5 227.0,284.5 227.5,284.5 228.0,284.5 228.5,284.5 229.0,284.5 229.5,284.5 230.0,284.5 230.5,284.5 231.0,284.5 231.5,284.5 232.0,284.5 232.5,284.5 233.0,284.5 233.5,284.5 234.0,284.5 234.5,284.5 235.0,284.5 235.5,284.5 236.0,284.5 236.5,284.5 237.0,284.5 237.5,282.8 238.0,279.5 238.5,275.2 239.0,270.1 239.5,264.4 240.0,258.5 240.5,252.5 241.0,246.6 241.5,241.1 242.0,236.0 242.5,231.6 243.0,228.0 243.5,225.2 244.0,223.5 244.5,222.7 245.0,223.0 245.5,224.4 246.0,226.7 246.5,230.0 247.0,234.2 247.5,239.0 248.0,244.4 248.5,250.1 249.0,256.1 249.5,262.1 250.0,267.9 250.5,273.2 251.0,277.9 251.5,281.7 252.0,284.1 252.5,284.5 253.0,284.5 253.5,284.5 254.0,284.5 254.5,284.5 255.0,284.5 255.5,284.5 256.0,284.5 256.5,284.5 257.0,284.5 257.5,284.5 258.0,284.5 258.5,284.5 259.0,284.5 259.5,284.5 260.0,284.5 260.5,284.5 261.0,284.5 261.5,284.5 262.0,284.5 262.5,284.5 263.0,284.5 263.5,284.5 264.0,284.5 264.5,284.5 265.0,284.5 265.5,284.5 266.0,284.5 266.5,283.7 267.0,280.0 267.5,274.3 268.0,267.4 268.5,259.5 269.0,250.9 269.5,242.2 270.0,233.5 270.5,225.1 271.0,217.3 271.5,210.4 272.0,204.6 272.5,200.0 273.0,196.8 273.5,195.1 274.0,194.9 274.5,196.3 275.0,199.2 275.5,203.5 276.0,209.1 276.5,215.8 277.0,223.5 277.5,231.7 278.0,240.4 278.5,249.2 279.0,257.8 279.5,265.8 280.0,273.0 280.5,279.0 281.0,283.2 281.5,284.5 282.0,284.5 282.5,284.5 283.0,284.5 283.5,284.5 284.0,284.5 284.5,284.5 285.0,284.5 285.5,284.5 286.0,284.5 286.5,284.5 287.0,284.5 287.5,284.5 288.0,284.5 288.5,284.5 289.0,284.5 289.5,284.5 290.0,284.5 290.5,284.5 291.0,284.5 291.5,284.5 292.0,284.5 292.5,284.5 293.0,284.5 293.5,284.5 294.0,284.5 294.5,283.6 295.0,279.9 295.5,274.5 296.0,267.8 296.5,260.3 297.0,252.2 297.5,244.0 298.0,235.8 298.5,228.0 299.0,220.8 299.5,214.4 300.0,209.1 300.5,205.0 301.0,202.2 301.5,200.9 302.0,201.1 302.5,202.7 303.0,205.7 303.5,210.1 304.0,215.6 304.5,222.1 305.0,229.5 305.5,237.4 306.0,245.6 306.5,253.9 307.0,261.8 307.5,269.2 308.0,275.7 308.5,280.8 309.0,284.1 309.5,284.5 310.0,284.5 310.5,284.5 311.0,284.5 311.5,284.5 312.0,284.5 312.5,284.5 313.0,284.5 313.5,284.5 314.0,284.5 314.5,284.5 315.0,284.5 315.5,284.5 316.0,284.5 316.5,284.5 317.0,284.5 317.5,284.5 318.0,284.5 318.5,284.5 319.0,284.5 319.5,284.5 320.0,284.5 320.5,284.5 321.0,284.5 321.5,284.5 322.0,284.5 322.5,284.5 323.0,284.5 323.5,283.2 324.0,279.8 324.5,275.2 325.0,269.7 325.5,263.6 326.0,257.2 326.5,250.6 327.0,244.3 327.5,238.2 328.0,232.8 328.5,228.0 329.0,224.2 329.5,221.3 330.0,219.6 330.5,219.0 331.0,219.6 331.5,221.3 332.0,224.2 332.5,228.0 333.0,232.8 333.5,238.2 334.0,244.3 334.5,250.6 335.0,257.2 335.5,263.6 336.0,269.7 336.5,275.2 337.0,279.8 337.5,283.2 338.0,284.5 338.5,284.5 339.0,284.5 339.5,284.5 340.0,284.5 340.5,284.5 341.0,284.5 341.5,284.5 342.0,284.5 342.5,284.5 343.0,284.5 343.5,284.5 344.0,284.5 344.5,284.5 345.0,284.5 345.5,284.5 346.0,284.5 346.5,284.5 347.0,284.5 347.5,284.5 348.0,284.5 348.5,284.5 349.0,284.5 349.5,284.5 350.0,284.5 350.5,284.5 351.0,284.5 351.5,284.5 352.0,284.5 352.5,282.6 353.0,278.2 353.5,272.3 354.0,265.3 354.5,257.6 355.0,249.5 355.5,241.3 356.0,233.3 356.5,225.8 357.0,219.0 357.5,213.3 358.0,208.6 358.5,205.3 359.0,203.4 359.5,202.9 360.0,204.0 360.5,206.5 361.0,210.3 361.5,215.4 362.0,221.6 362.5,228.7 363.0,236.4 363.5,244.5 364.0,252.7 364.5,260.7 365.0,268.2 365.5,274.8 366.0,280.2 366.5,283.7 367.0,284.5 367.5,284.5 368.0,284.5 368.5,284.5 369.0,284.5 369.5,284.5 370.0,284.5 370.5,284.5 371.0,284.5 371.5,284.5 372.0,284.5 372.5,284.5 373.0,284.5 373.5,284.5 374.0,284.5 374.5,284.5 375.0,284.5 375.5,284.5 376.0,284.5 376.5,284.5 377.0,284.5 377.5,284.5 378.0,284.5 378.5,284.5 379.0,284.5 379.5,284.5 380.0,284.5 380.5,284.5 381.0,284.5 381.5,283.2 382.0,279.6 382.5,274.7 383.0,268.8 383.5,262.2 384.0,255.3 384.5,248.2 385.0,241.3 385.5,234.9 386.0,229.1 386.5,224.1 387.0,220.1 387.5,217.2 388.0,215.5 388.5,215.1 389.0,216.0 389.5,218.2 390.0,221.5 390.5,225.9 391.0,231.3 391.5,237.4 392.0,244.1 392.5,251.0 393.0,258.1 393.5,264.9 394.0,271.2 394.5,276.8 395.0,281.3 395.5,284.1 396.0,284.5 396.5,284.5 397.0,284.5 397.5,284.5 398.0,284.5 398.5,284.5 399.0,284.5 399.5,284.5 400.0,284.5 400.5,284.5 401.0,284.5 401.5,284.5 402.0,284.5 402.5,284.5 403.0,284.5 403.5,284.5 404.0,284.5 404.5,284.5 405.0,284.5 405.5,284.5 406.0,284.5 406.5,284.5 407.0,284.5 407.5,284.5 408.0,284.5 408.5,284.5 409.0,284.5 409.5,284.5 410.0,284.5 410.5,284.5 411.0,282.4 411.5,277.3 412.0,270.3 412.5,262.0 413.0,252.8 413.5,243.2 414.0,233.5 414.5,224.0 415.0,215.2 415.5,207.3 416.0,200.6 416.5,195.3 417.0,191.6 417.5,189.6 418.0,189.4 418.5,191.1 419.0,194.4 419.5,199.4 420.0,205.8 420.5,213.5 421.0,222.2 421.5,231.5 422.0,241.2 422.5,250.9 423.0,260.2 423.5,268.8 424.0,276.1 424.5,281.6 425.0,284.5 425.5,284.5 426.0,284.5 426.5,284.5 427.0,284.5 427.5,284.5 428.0,284.5 428.5,284.5 429.0,284.5 429.5,284.5 430.0,284.5 430.5,284.5 431.0,284.5 431.5,284.5 432.0,284.5 432.5,284.5 433.0,284.5 433.5,284.5 434.0,284.5 434.5,284.5 435.0,284.5 435.5,284.5 436.0,284.5 436.5,284.5 437.0,284.5 437.5,284.5 438.0,284.5 438.5,284.5 439.0,284.5 439.5,284.5 440.0,281.9 440.5,276.0 441.0,268.2 441.5,258.9 442.0,248.6 442.5,237.9 443.0,227.2 443.5,216.8 444.0,207.2 444.5,198.6 445.0,191.4 445.5,185.9 446.0,182.2 446.5,180.4 447.0,180.6 447.5,182.8 448.0,186.9 448.5,192.8 449.0,200.2 449.5,209.0 450.0,218.8 450.5,229.3 451.0,240.1 451.5,250.7 452.0,260.8 452.5,269.9 453.0,277.4 453.5,282.7 454.0,284.5 454.5,284.5 455.0,284.5 455.5,284.5 456.0,284.5 456.5,284.5 457.0,284.5 457.5,284.5 458.0,284.5 458.5,284.5 459.0,284.5 459.5,284.5 460.0,284.5 460.5,284.5 461.0,284.5 461.5,284.5 462.0,284.5 462.5,284.5 463.0,284.5 463.5,284.5 464.0,284.5 464.5,284.5 465.0,284.5 465.5,284.5 466.0,284.5 466.5,284.5 467.0,284.5 467.5,284.5 468.0,284.0 468.5,280.3 469.0,274.6 469.5,267.5 470.0,259.4 470.5,250.7 471.0,241.9 471.5,233.1 472.0,224.9 472.5,217.4 473.0,211.0 473.5,205.8 474.0,202.1 474.5,199.9 475.0,199.4 475.5,200.6 476.0,203.4 476.5,207.7 477.0,213.4 477.5,220.3 478.0,228.1 478.5,236.6 479.0,245.4 479.5,254.2 480.0,262.7 480.5,270.5 481.0,277.1 481.5,282.1 482.0,284.5 482.5,284.5 483.0,284.5 483.5,284.5 484.0,284.5 484.5,284.5 485.0,284.5 485.5,284.5 486.0,284.5 486.5,284.5 487.0,284.5 487.5,284.5 488.0,284.5 488.5,284.5 489.0,284.5 489.5,284.5 490.0,284.5 490.5,284.5 491.0,284.5 491.5,284.5 492.0,284.5 492.5,284.5 493.0,284.5 493.5,284.5 494.0,284.5 494.5,284.5 495.0,284.5 495.5,284.5 496.0,284.5 496.5,284.5 497.0,283.8 497.5,280.0 498.0,274.1 498.5,266.9 499.0,258.8 499.5,250.1 500.0,241.3 500.5,232.6 501.0,224.5 501.5,217.2 502.0,211.0 502.5,206.1 503.0,202.6 503.5,200.8 504.0,200.6 504.5,202.1 505.0,205.3 505.5,209.9 506.0,215.9 506.5,223.0 507.0,230.9 507.5,239.5 508.0,248.3 508.5,257.1 509.0,265.4 509.5,272.8 510.0,278.9 510.5,283.2 511.0,284.5 511.5,284.5 512.0,284.5 512.5,284.5 513.0,284.5 513.5,284.5 514.0,284.5 514.5,284.5 515.0,284.5 515.5,284.5 516.0,284.5 516.5,284.5 517.0,284.5 517.5,284.5 518.0,284.5 518.5,284.5 519.0,284.5 519.5,284.5 520.0,284.5 520.5,284.5 521.0,284.5 521.5,284.5 522.0,284.5 522.5,284.5 523.0,284.5 523.5,284.5 524.0,284.5 524.5,284.5 525.0,284.5 525.5,283.6 526.0,279.8 526.5,274.1 527.0,267.1 527.5,259.2 528.0,250.8 528.5,242.4 529.0,234.2 529.5,226.5 530.0,219.6 530.5,213.9 531.0,209.4 531.5,206.4 532.0,204.9 532.5,205.1 533.0,206.9 533.5,210.2 534.0,214.9 534.5,220.9 535.0,228.0 535.5,235.8 536.0,244.1 536.5,252.5 537.0,260.8 537.5,268.5 538.0,275.3 538.5,280.7 539.0,284.1 539.5,284.5 540.0,284.5 540.5,284.5 541.0,284.5 541.5,284.5 542.0,284.5 542.5,284.5 543.0,284.5 543.5,284.5 544.0,284.5 544.5,284.5 545.0,284.5 545.5,284.5 546.0,284.5 546.5,284.5 547.0,284.5 547.5,284.5 548.0,284.5 548.5,284.5 549.0,284.5 549.5,284.5 550.0,284.5 550.5,284.5 551.0,284.5 551.5,284.5 552.0,284.5 552.5,284.5 553.0,284.5 553.5,284.5 554.0,284.5 554.5,284.5 555.0,282.4 555.5,274.3 556.0,262.5 556.5,248.2 557.0,232.3 557.5,215.5 558.0,198.5 558.5,182.1 559.0,166.9 559.5,153.4 560.0,142.2 560.5,133.8 561.0,128.3 561.5,126.0 562.0,127.0 562.5,131.2 563.0,138.5 563.5,148.6 564.0,161.2 564.5,175.8 565.0,191.8 565.5,208.7 566.0,225.6 566.5,242.0 567.0,257.1 567.5,269.9 568.0,279.7 568.5,284.5 569.0,284.5 569.5,284.5 570.0,284.5 570.5,284.5 571.0,284.5 571.5,284.5 572.0,284.5 572.5,284.5 573.0,284.5 573.5,284.5 574.0,284.5 574.5,284.5 575.0,284.5 575.5,284.5 576.0,284.5 576.5,284.5 577.0,284.5 577.5,284.5 578.0,284.5 578.5,284.5 579.0,284.5 579.5,284.5 580.0,284.5 580.5,284.5 581.0,284.5 581.5,284.5 582.0,284.5 582.5,284.5 583.0,284.5 583.5,284.5 584.0,281.2 584.5,273.3 585.0,262.6 585.5,249.9 586.0,236.1 586.5,221.6 587.0,207.3 587.5,193.6 588.0,181.1 588.5,170.3 589.0,161.6 589.5,155.3 590.0,151.7 590.5,150.9 591.0,152.8 591.5,157.5 592.0,164.8 592.5,174.4 593.0,185.9 593.5,199.0 594.0,213.0 594.5,227.4 595.0,241.7 595.5,255.2 596.0,267.1 596.5,276.9 597.0,283.3 597.5,284.5 598.0,284.5 598.5,284.5 599.0,284.5 599.5,284.5 600.0,284.5 600.5,284.5 601.0,284.5 601.5,284.5 602.0,284.5 602.5,284.5 603.0,284.5 603.5,284.5 604.0,284.5 604.5,284.5 605.0,284.5 605.5,284.5 606.0,284.5 606.5,284.5 607.0,284.5 607.5,284.5 608.0,284.5 608.5,284.5 609.0,284.5 609.5,284.5 610.0,284.5 610.5,284.5 611.0,284.5 611.5,284.5 612.0,284.4 612.5,281.5 613.0,276.2 613.5,269.4 614.0,261.6 614.5,253.2 615.0,244.5 615.5,236.1 616.0,228.1 616.5,221.0 617.0,215.0 617.5,210.3 618.0,207.2 618.5,205.6 619.0,205.8 619.5,207.7 620.0,211.1 620.5,216.1 621.0,222.4 621.5,229.7 622.0,237.7 622.5,246.3 623.0,254.9 623.5,263.2 624.0,270.9 624.5,277.4 625.0,282.3 625.5,284.5 626.0,284.5 626.5,284.5 627.0,284.5 627.5,284.5 628.0,284.5 628.5,284.5 629.0,284.5 629.5,284.5 630.0,284.5 630.5,284.5 631.0,284.5 631.5,284.5 632.0,284.5 632.5,284.5 633.0,284.5 633.5,284.5 634.0,284.5 634.5,284.5 635.0,284.5 635.5,284.5 636.0,284.5 636.5,284.5 637.0,284.5 637.5,284.5 638.0,284.5 638.5,284.5 639.0,284.5 639.5,284.5 640.0,284.5 640.5,284.5 641.0,283.8 641.5,279.3 642.0,272.4 642.5,263.9 643.0,254.3 643.5,244.0 644.0,233.7 644.5,223.8 645.0,214.5 645.5,206.4 646.0,199.8 646.5,194.9 647.0,191.8 647.5,190.8 648.0,191.8 648.5,194.9 649.0,199.8 649.5,206.4 650.0,214.5 650.5,223.8 651.0,233.7 651.5,244.0 652.0,254.3 652.5,263.9 653.0,272.4 653.5,279.3 654.0,283.8 654.5,284.5 655.0,284.5 655.5,284.5 656.0,284.5 656.5,284.5 657.0,284.5 657.5,284.5 658.0,284.5 658.5,284.5 659.0,284.5 659.5,284.5 660.0,284.5 660.5,284.5 661.0,284.5 661.5,284.5 662.0,284.5 662.5,284.5 663.0,284.5 663.5,284.5 664.0,284.5 664.5,284.5 665.0,284.5 665.5,284.5 666.0,284.5 666.5,284.5 667.0,284.5 667.5,284.5 668.0,284.5 668.5,284.5 669.0,284.5 669.5,284.5 670.0,284.5 670.5,283.8 671.0,280.4 671.5,275.2 672.0,268.8 672.5,261.6 673.0,254.0 673.5,246.4 674.0,239.2 674.5,232.5 675.0,226.7 675.5,222.0 676.0,218.6 676.5,216.6 677.0,216.1 677.5,217.2 678.0,219.8 678.5,223.7 679.0,228.9 679.5,235.1 680.0,242.0 680.5,249.5 681.0,257.1 681.5,264.5 682.0,271.4 682.5,277.4 683.0,282.0 683.5,284.5 684.0,284.5 684.5,284.5 685.0,284.5 685.5,284.5 686.0,284.5 686.5,284.5 687.0,284.5 687.5,284.5 688.0,284.5 688.5,284.5 689.0,284.5 689.5,284.5 690.0,284.5 690.5,284.5 691.0,284.5 691.5,284.5 692.0,284.5 692.5,284.5 693.0,284.5 693.5,284.5 694.0,284.5 694.5,284.5 695.0,284.5 695.5,284.5 696.0,284.5 696.5,284.5 697.0,284.5 697.5,284.5 698.0,284.5 698.5,284.5 699.0,284.5 699.5,284.4 700.0,282.3 700.5,278.7 701.0,273.9 701.5,268.5 702.0,262.7 702.5,256.7 703.0,251.0 703.5,245.6 704.0,240.9 704.5,237.1 705.0,234.2 705.5,232.4 706.0,231.8 706.5,232.4 707.0,234.2 707.5,237.1 708.0,240.9 708.5,245.6 709.0,251.0 709.5,256.7 710.0,262.7 710.5,268.5 711.0,273.9 711.5,278.7 712.0,282.3 712.5,284.4 713.0,284.5 713.5,284.5 714.0,284.5 714.5,284.5 715.0,284.5 715.5,284.5 716.0,284.5 716.5,284.5 717.0,284.5 717.5,284.5 718.0,284.5 718.5,284.5 719.0,284.5 719.5,284.5 720.0,284.5 720.5,284.5 721.0,284.5 721.5,284.5 722.0,284.5 722.5,284.5 723.0,284.5 723.5,284.5 724.0,284.5 724.5,284.5 725.0,284.5 725.5,284.5 726.0,284.5 726.5,284.5 727.0,284.5 727.5,284.5 728.0,284.5 728.5,283.8 729.0,279.7 729.5,273.4 730.0,265.7 730.5,256.9 731.0,247.7 731.5,238.5 732.0,229.7 732.5,221.6 733.0,214.7 733.5,209.2 734.0,205.3 734.5,203.2 735.0,203.1 735.5,204.8 736.0,208.3 736.5,213.5 737.0,220.1 737.5,228.0 738.0,236.7 738.5,245.9 739.0,255.1 739.5,264.0 740.0,272.0 740.5,278.6 741.0,283.2 741.5,284.5 742.0,284.5 742.5,284.5 743.0,284.5 743.5,284.5 744.0,284.5 744.5,284.5 745.0,284.5 745.5,284.5 746.0,284.5 746.5,284.5 747.0,284.5 747.5,284.5 748.0,284.5 748.5,284.5 749.0,284.5 749.5,284.5 750.0,284.5 750.5,284.5 751.0,284.5 751.5,284.5 752.0,284.5 752.5,284.5 753.0,284.5 753.5,284.5 754.0,284.5 754.5,284.5 755.0,284.5 755.5,284.5 756.0,283.5 756.5,280.2 757.0,275.6 757.5,270.1 758.0,264.0 758.5,257.8 759.0,251.6 759.5,245.7 760.0,240.5 760.5,236.1 761.0,232.8 761.5,230.6 762.0,229.7 762.5,230.1 763.0,231.8 763.5,234.7 764.0,238.7 764.5,243.6 765.0,249.2 765.5,255.3 766.0,261.5 766.5,267.7 767.0,273.5 767.5,278.5 768.0,282.4 768.5,284.5 769.0,284.5 769.5,284.5 770.0,284.5 770.5,284.5 771.0,284.5 771.5,284.5 772.0,284.5 772.5,284.5 773.0,284.5 773.5,284.5 774.0,284.5 774.5,284.5 775.0,284.5 775.5,284.5 776.0,284.5 776.5,284.5 777.0,284.5 777.5,284.5 778.0,284.5 778.5,284.5 779.0,284.5 779.5,284.5 780.0,284.5 780.5,284.5 781.0,284.5 781.5,284.5 782.0,284.5 782.5,284.5 783.0,284.5 783.5,284.5 784.0,283.5 784.5,279.5 785.0,273.6 785.5,266.4 786.0,258.5 786.5,250.2 787.0,242.0 787.5,234.3 788.0,227.4 788.5,221.6 789.0,217.1 789.5,214.2 790.0,213.0 790.5,213.6 791.0,215.8 791.5,219.6 792.0,224.9 792.5,231.4 793.0,238.9 793.5,246.9 794.0,255.2 794.5,263.3 795.0,270.8 795.5,277.3 796.0,282.2 796.5,284.5 797.0,284.5 797.5,284.5 798.0,284.5 798.5,284.5 799.0,284.5 799.5,284.5 800.0,284.5 800.5,284.5 801.0,284.5 801.5,284.5 802.0,284.5 802.5,284.5 803.0,284.5 803.5,284.5 804.0,284.5 804.5,284.5 805.0,284.5 805.5,284.5 806.0,284.5 806.5,284.5 807.0,284.5 807.5,284.5 808.0,284.5 808.5,284.5 809.0,284.5 809.5,284.5 810.0,284.5 810.5,284.5 811.0,284.5 811.5,284.5 812.0,284.5 812.5,284.5 813.0,284.5 813.5,284.5 814.0,282.3 814.5,278.1 815.0,272.5 815.5,266.1 816.0,259.2 816.5,252.2 817.0,245.5 817.5,239.3 818.0,233.9 818.5,229.7 819.0,226.7 819.5,225.1 820.0,224.9 820.5,226.2 821.0,229.0 821.5,233.0 822.0,238.1 822.5,244.2 823.0,250.8 823.5,257.8 824.0,264.7 824.5,271.3 825.0,277.0 825.5,281.6 826.0,284.3 826.5,284.5 827.0,284.5 827.5,284.5 828.0,284.5 828.5,284.5 829.0,284.5 829.5,284.5 830.0,284.5 830.5,284.5 831.0,284.5 831.5,284.5 832.0,284.5 832.5,284.5 833.0,284.5 833.5,284.5 834.0,284.5 834.5,284.5 835.0,284.5 835.5,284.5 836.0,284.5 836.5,284.5 837.0,284.5 837.5,284.5 838.0,284.5 838.5,284.5 839.0,284.5 839.5,284.5 840.0,284.5 840.5,284.5 841.0,284.5 841.5,284.5 842.0,284.5 842.5,284.2 843.0,281.4 843.5,277.0 844.0,271.4 844.5,265.1 845.0,258.4 845.5,251.8 846.0,245.5 846.5,239.9 847.0,235.1 847.5,231.5 848.0,229.1 848.5,228.1 849.0,228.6 849.5,230.4 850.0,233.5 850.5,237.9 851.0,243.2 851.5,249.2 852.0,255.8 852.5,262.4 853.0,268.9 853.5,274.8 854.0,279.8 854.5,283.4 855.0,284.5 855.5,284.5 856.0,284.5 856.5,284.5 857.0,284.5 857.5,284.5 858.0,284.5 858.5,284.5 859.0,284.5 859.5,284.5 860.0,284.5 860.5,284.5 861.0,284.5 861.5,284.5 862.0,284.5 862.5,284.5 863.0,284.5 863.5,284.5 864.0,284.5 864.5,284.5 865.0,284.5 865.5,284.5 866.0,284.5 866.5,284.5 867.0,284.5 867.5,284.5 868.0,284.5 868.5,284.5 869.0,284.5 869.5,284.5 870.0,284.5 870.5,280.3 871.0,271.7 871.5,260.2 872.0,246.9 872.5,232.7 873.0,218.3 873.5,204.5 874.0,191.8 874.5,181.1 875.0,172.6 875.5,166.8 876.0,164.0 876.5,164.4 877.0,167.8 877.5,174.1 878.0,183.0 878.5,194.2 879.0,207.1 879.5,221.2 880.0,235.6 880.5,249.7 881.0,262.7 881.5,273.7 882.0,281.6 882.5,284.5 883.0,284.5 883.5,284.5 884.0,284.5 884.5,284.5 885.0,284.5 885.5,284.5 886.0,284.5 886.5,284.5 887.0,284.5 887.5,284.5 888.0,284.5 888.5,284.5 889.0,284.5 889.5,284.5 890.0,284.5 890.5,284.5 891.0,284.5 891.5,284.5 892.0,284.5 892.5,284.5 893.0,284.5 893.5,284.5 894.0,284.5 894.5,284.5 895.0,284.5 895.5,284.5 896.0,284.5 896.5,284.5 897.0,284.5 897.5,284.5 898.0,284.5 898.5,284.5 899.0,284.5 899.5,284.5 900.0,284.5 900.5,281.1 901.0,272.7 901.5,261.3 902.0,248.0 902.5,233.6 903.0,218.9 903.5,204.8 904.0,191.9 904.5,180.9 905.0,172.2 905.5,166.3 905.8,164.0 906.6,166.0 907.5,184.0 908.2,215.0 908.7,255.0 909.0,284.5 910.6,284.5 911.2,281.5 911.8,284.5 912.0,284.5 912.5,284.5 913.0,284.5 913.5,284.5 914.0,284.5 914.5,284.5 915.0,284.5 915.5,284.5 916.0,284.5 916.5,284.5 917.0,284.5 917.5,284.5 918.0,284.5 918.5,284.5 919.0,284.5 919.5,284.5 920.0,284.5 920.5,284.5 921.0,284.5 921.5,284.5 922.0,284.5 922.5,284.5 923.0,284.5 923.5,284.5 924.0,284.5 924.5,284.5 925.0,284.5 925.5,284.5 926.0,284.5 926.5,284.5 927.0,283.8 927.5,282.4 928.0,280.4 928.5,278.1 929.0,275.3 929.5,272.2 930.0,268.7 930.1,268.0" fill="none" stroke="#eca544" stroke-width="1.2" stroke-linejoin="round"/>
<path d="M57.2,284.5 L57.2,234.6 58.9,241.2 61.1,251.0 63.7,254.7 65.5,253.2 67.0,249.9 68.5,261.9 70.3,264.1 72.5,260.4 74.7,263.0 76.8,263.4 78.6,265.2 80.1,254.3 82.3,237.9 84.5,226.3 86.0,227.6 87.8,235.7 90.0,241.2 91.7,245.5 93.9,238.5 95.4,239.0 96.9,254.3 98.7,258.6 100.9,257.5 103.5,258.2 106.3,259.1 108.5,247.7 110.7,221.5 112.9,208.4 115.1,201.8 117.3,199.2 119.4,197.9 120.5,201.8 122.7,204.0 124.5,201.8 126.0,207.3 127.5,213.2 129.3,206.2 131.0,200.8 133.6,197.9 135.4,193.1 136.9,186.6 139.1,180.0 139.2,140.0 140.2,125.1 141.2,123.1 142.7,115.2 143.9,116.9 145.3,125.1 146.8,128.2 148.4,133.4 150.5,112.8 152.2,96.3 153.6,86.0 155.0,94.2 156.7,105.5 158.3,106.6 160.4,113.8 161.9,106.6 163.3,96.3 164.5,92.1 165.6,71.5 166.6,62.2 167.6,60.2 169.1,73.6 170.1,81.8 171.5,83.9 173.2,93.2 174.9,104.5 176.3,105.5 178.4,110.3 180.4,104.5 182.1,98.3 183.5,104.5 185.2,110.7 187.2,109.7 189.3,113.8 191.4,108.6 193.2,95.2 194.9,94.2 195.9,92.1 197.5,86.0 199.0,90.1 200.4,91.1 201.7,95.2 203.1,90.1 204.6,92.1 206.6,101.4 209.3,114.8 210.7,125.1 212.4,140.0 213.5,147.0 215.2,150.8 217.3,160.0 220.0,178.7 222.7,194.7 225.4,213.4 228.0,232.1 230.7,245.4 233.4,256.1 236.6,261.5 239.2,260.1 241.4,260.1 244.0,256.1 248.0,252.1 252.1,249.5 256.1,244.1 258.7,246.8 262.7,250.8 266.7,254.8 269.4,259.3 272.1,264.1 274.8,262.0 277.4,260.1 280.9,264.1 284.1,260.9 287.3,257.5 289.4,260.9 293.4,259.3 296.9,254.0 298.8,252.1 300.8,248.5 303.2,233.1 306.3,220.7 308.4,206.3 310.4,191.8 312.5,183.2 314.2,185.2 316.2,179.9 317.7,185.2 319.1,182.5 320.8,183.6 322.4,179.4 323.9,176.3 325.9,179.9 328.0,191.8 329.6,205.2 331.1,210.8 332.7,204.2 335.2,198.4 338.3,197.0 340.4,192.9 341.8,195.5 343.5,198.4 345.5,198.0 347.6,200.5 349.6,200.1 351.7,203.2 353.8,206.3 355.8,210.0 357.9,212.0 361.0,212.5 363.1,218.6 365.1,226.9 367.2,237.2 369.9,242.4 372.3,244.4 374.4,242.4 377.5,231.0 379.9,224.4 381.9,220.5 384.8,218.2 387.7,215.1 389.7,220.5 392.6,230.2 395.5,242.9 398.4,253.5 401.3,260.3 404.2,268.1 407.1,273.0 410.0,273.9 413.0,275.9 415.9,278.8 418.8,277.2 422.7,273.9 425.6,268.1 428.1,263.3 430.4,261.3 432.4,257.4 434.7,249.7 437.2,242.9 439.7,239.6 441.1,239.0 442.5,243.8 444.4,249.3 446.9,252.0 449.5,256.5 451.8,262.3 454.1,266.2 456.1,267.1 458.6,272.0 461.1,275.9 462.5,276.8 465.0,274.0 467.3,271.5 470.1,269.3 472.7,269.3 476.0,263.8 479.3,256.2 482.6,247.4 485.8,238.7 488.0,233.2 490.2,225.6 492.0,230.0 494.6,225.6 496.8,223.4 499.0,227.8 501.1,232.1 503.3,231.0 505.5,226.7 507.7,222.3 509.2,225.6 511.0,221.2 513.1,216.8 515.3,220.1 517.5,219.0 520.4,223.4 523.0,226.7 526.3,228.9 529.5,237.6 532.2,231.0 534.3,220.1 537.2,215.1 539.4,216.8 542.2,212.0 544.8,216.8 548.1,227.8 551.4,237.6 553.5,242.0 555.3,249.2 557.8,263.7 560.2,266.9 562.6,269.8 565.0,272.7 567.0,271.0 568.9,252.8 571.4,228.5 573.8,215.2 576.2,204.3 577.9,200.6 580.3,201.8 582.8,195.8 585.2,190.9 586.9,197.0 588.8,206.7 590.8,218.8 592.5,211.6 594.2,197.0 596.1,180.0 597.2,150.7 598.3,136.3 599.3,133.2 600.7,136.3 602.0,143.5 603.4,145.5 605.5,151.1 607.5,150.3 609.6,147.6 611.3,140.4 612.7,137.3 614.1,139.4 615.8,150.7 617.4,165.1 619.3,175.9 620.9,175.5 622.6,176.5 624.0,161.0 626.1,140.4 627.8,128.0 629.2,123.5 631.3,124.9 633.3,120.8 636.4,117.7 638.5,115.6 639.9,106.3 641.2,102.2 642.6,107.4 644.1,115.6 645.7,119.8 648.8,119.3 650.2,122.9 651.9,136.3 654.4,151.1 657.1,151.7 659.1,156.9 662.2,167.2 664.3,173.4 668.4,188.0 672.4,202.7 675.8,216.1 678.5,229.4 680.4,241.4 682.2,256.1 683.8,262.0 685.7,256.1 687.6,253.5 689.7,242.8 691.0,226.8 692.4,200.0 693.7,176.0 695.1,160.0 697.2,123.0 698.7,106.1 699.9,96.8 700.9,94.7 702.0,98.9 703.4,107.1 704.9,102.0 706.1,98.9 707.5,102.0 709.0,103.0 710.2,99.9 711.7,91.6 713.1,87.1 714.8,83.0 716.4,87.1 718.5,85.9 720.5,81.3 722.0,78.9 724.0,78.2 725.5,68.9 727.1,63.8 728.8,60.7 730.2,56.6 731.3,48.3 732.3,46.7 733.7,54.5 735.0,63.8 736.4,62.8 738.5,57.0 739.9,61.7 741.6,66.9 743.2,70.0 744.7,68.5 746.7,77.2 748.8,87.5 750.9,95.8 752.9,97.8 754.4,91.6 756.0,80.3 758.1,73.1 760.1,72.0 762.2,70.0 763.7,72.0 764.7,79.3 766.7,79.3 768.4,76.2 770.0,79.3 771.0,86.5 772.5,87.5 773.7,92.7 775.2,104.0 776.6,107.7 778.3,108.1 779.9,102.0 781.3,91.6 782.8,81.3 784.0,68.5 785.1,66.9 786.1,73.1 787.5,78.2 789.0,72.0 790.2,75.1 791.7,80.3 793.1,82.4 794.3,71.0 795.4,52.4 796.4,45.2 797.2,43.2 798.5,47.3 799.9,52.0 801.4,50.4 802.6,54.1 804.0,62.8 805.5,81.3 807.1,85.5 808.8,89.6 810.6,94.7 812.3,93.7 813.7,99.9 815.4,105.1 817.0,106.1 818.5,110.2 819.9,109.2 821.6,111.2 823.2,106.1 824.7,97.8 826.7,87.5 828.8,76.2 830.5,71.0 831.9,76.2 834.0,78.2 836.0,81.3 838.1,89.6 840.1,99.9 841.8,102.0 843.2,94.7 844.7,91.6 846.3,91.6 848.4,80.3 850.0,79.3 851.5,80.3 853.6,75.1 854.7,69.3 856.2,74.4 857.8,78.6 859.3,86.8 861.3,98.2 863.4,99.2 864.9,107.5 866.5,119.8 868.2,133.2 869.3,138.3 870.7,140.5 872.0,145.9 873.3,155.0 875.1,166.9 877.5,174.1 879.3,179.6 881.1,182.7 882.4,175.0 883.8,161.4 885.3,150.5 886.6,149.6 887.9,155.0 889.7,166.0 891.1,162.3 892.9,153.2 894.8,138.6 895.8,121.9 897.5,99.2 898.9,80.6 900.1,67.2 901.6,80.6 903.2,88.9 905.3,97.1 907.4,109.5 908.9,265.0 909.6,240.0 911.5,157.8 912.6,156.8 913.9,165.0 915.7,180.5 917.5,190.5 919.4,201.7 921.7,213.3 924.3,209.4 926.2,210.4 929.1,200.7 930.1,231.7 L930.1,284.5 Z" fill="rgba(95,192,100,0.3)" stroke="none"/>
<polyline points="57.2,234.6 58.9,241.2 61.1,251.0 63.7,254.7 65.5,253.2 67.0,249.9 68.5,261.9 70.3,264.1 72.5,260.4 74.7,263.0 76.8,263.4 78.6,265.2 80.1,254.3 82.3,237.9 84.5,226.3 86.0,227.6 87.8,235.7 90.0,241.2 91.7,245.5 93.9,238.5 95.4,239.0 96.9,254.3 98.7,258.6 100.9,257.5 103.5,258.2 106.3,259.1 108.5,247.7 110.7,221.5 112.9,208.4 115.1,201.8 117.3,199.2 119.4,197.9 120.5,201.8 122.7,204.0 124.5,201.8 126.0,207.3 127.5,213.2 129.3,206.2 131.0,200.8 133.6,197.9 135.4,193.1 136.9,186.6 139.1,180.0 139.2,140.0 140.2,125.1 141.2,123.1 142.7,115.2 143.9,116.9 145.3,125.1 146.8,128.2 148.4,133.4 150.5,112.8 152.2,96.3 153.6,86.0 155.0,94.2 156.7,105.5 158.3,106.6 160.4,113.8 161.9,106.6 163.3,96.3 164.5,92.1 165.6,71.5 166.6,62.2 167.6,60.2 169.1,73.6 170.1,81.8 171.5,83.9 173.2,93.2 174.9,104.5 176.3,105.5 178.4,110.3 180.4,104.5 182.1,98.3 183.5,104.5 185.2,110.7 187.2,109.7 189.3,113.8 191.4,108.6 193.2,95.2 194.9,94.2 195.9,92.1 197.5,86.0 199.0,90.1 200.4,91.1 201.7,95.2 203.1,90.1 204.6,92.1 206.6,101.4 209.3,114.8 210.7,125.1 212.4,140.0 213.5,147.0 215.2,150.8 217.3,160.0 220.0,178.7 222.7,194.7 225.4,213.4 228.0,232.1 230.7,245.4 233.4,256.1 236.6,261.5 239.2,260.1 241.4,260.1 244.0,256.1 248.0,252.1 252.1,249.5 256.1,244.1 258.7,246.8 262.7,250.8 266.7,254.8 269.4,259.3 272.1,264.1 274.8,262.0 277.4,260.1 280.9,264.1 284.1,260.9 287.3,257.5 289.4,260.9 293.4,259.3 296.9,254.0 298.8,252.1 300.8,248.5 303.2,233.1 306.3,220.7 308.4,206.3 310.4,191.8 312.5,183.2 314.2,185.2 316.2,179.9 317.7,185.2 319.1,182.5 320.8,183.6 322.4,179.4 323.9,176.3 325.9,179.9 328.0,191.8 329.6,205.2 331.1,210.8 332.7,204.2 335.2,198.4 338.3,197.0 340.4,192.9 341.8,195.5 343.5,198.4 345.5,198.0 347.6,200.5 349.6,200.1 351.7,203.2 353.8,206.3 355.8,210.0 357.9,212.0 361.0,212.5 363.1,218.6 365.1,226.9 367.2,237.2 369.9,242.4 372.3,244.4 374.4,242.4 377.5,231.0 379.9,224.4 381.9,220.5 384.8,218.2 387.7,215.1 389.7,220.5 392.6,230.2 395.5,242.9 398.4,253.5 401.3,260.3 404.2,268.1 407.1,273.0 410.0,273.9 413.0,275.9 415.9,278.8 418.8,277.2 422.7,273.9 425.6,268.1 428.1,263.3 430.4,261.3 432.4,257.4 434.7,249.7 437.2,242.9 439.7,239.6 441.1,239.0 442.5,243.8 444.4,249.3 446.9,252.0 449.5,256.5 451.8,262.3 454.1,266.2 456.1,267.1 458.6,272.0 461.1,275.9 462.5,276.8 465.0,274.0 467.3,271.5 470.1,269.3 472.7,269.3 476.0,263.8 479.3,256.2 482.6,247.4 485.8,238.7 488.0,233.2 490.2,225.6 492.0,230.0 494.6,225.6 496.8,223.4 499.0,227.8 501.1,232.1 503.3,231.0 505.5,226.7 507.7,222.3 509.2,225.6 511.0,221.2 513.1,216.8 515.3,220.1 517.5,219.0 520.4,223.4 523.0,226.7 526.3,228.9 529.5,237.6 532.2,231.0 534.3,220.1 537.2,215.1 539.4,216.8 542.2,212.0 544.8,216.8 548.1,227.8 551.4,237.6 553.5,242.0 555.3,249.2 557.8,263.7 560.2,266.9 562.6,269.8 565.0,272.7 567.0,271.0 568.9,252.8 571.4,228.5 573.8,215.2 576.2,204.3 577.9,200.6 580.3,201.8 582.8,195.8 585.2,190.9 586.9,197.0 588.8,206.7 590.8,218.8 592.5,211.6 594.2,197.0 596.1,180.0 597.2,150.7 598.3,136.3 599.3,133.2 600.7,136.3 602.0,143.5 603.4,145.5 605.5,151.1 607.5,150.3 609.6,147.6 611.3,140.4 612.7,137.3 614.1,139.4 615.8,150.7 617.4,165.1 619.3,175.9 620.9,175.5 622.6,176.5 624.0,161.0 626.1,140.4 627.8,128.0 629.2,123.5 631.3,124.9 633.3,120.8 636.4,117.7 638.5,115.6 639.9,106.3 641.2,102.2 642.6,107.4 644.1,115.6 645.7,119.8 648.8,119.3 650.2,122.9 651.9,136.3 654.4,151.1 657.1,151.7 659.1,156.9 662.2,167.2 664.3,173.4 668.4,188.0 672.4,202.7 675.8,216.1 678.5,229.4 680.4,241.4 682.2,256.1 683.8,262.0 685.7,256.1 687.6,253.5 689.7,242.8 691.0,226.8 692.4,200.0 693.7,176.0 695.1,160.0 697.2,123.0 698.7,106.1 699.9,96.8 700.9,94.7 702.0,98.9 703.4,107.1 704.9,102.0 706.1,98.9 707.5,102.0 709.0,103.0 710.2,99.9 711.7,91.6 713.1,87.1 714.8,83.0 716.4,87.1 718.5,85.9 720.5,81.3 722.0,78.9 724.0,78.2 725.5,68.9 727.1,63.8 728.8,60.7 730.2,56.6 731.3,48.3 732.3,46.7 733.7,54.5 735.0,63.8 736.4,62.8 738.5,57.0 739.9,61.7 741.6,66.9 743.2,70.0 744.7,68.5 746.7,77.2 748.8,87.5 750.9,95.8 752.9,97.8 754.4,91.6 756.0,80.3 758.1,73.1 760.1,72.0 762.2,70.0 763.7,72.0 764.7,79.3 766.7,79.3 768.4,76.2 770.0,79.3 771.0,86.5 772.5,87.5 773.7,92.7 775.2,104.0 776.6,107.7 778.3,108.1 779.9,102.0 781.3,91.6 782.8,81.3 784.0,68.5 785.1,66.9 786.1,73.1 787.5,78.2 789.0,72.0 790.2,75.1 791.7,80.3 793.1,82.4 794.3,71.0 795.4,52.4 796.4,45.2 797.2,43.2 798.5,47.3 799.9,52.0 801.4,50.4 802.6,54.1 804.0,62.8 805.5,81.3 807.1,85.5 808.8,89.6 810.6,94.7 812.3,93.7 813.7,99.9 815.4,105.1 817.0,106.1 818.5,110.2 819.9,109.2 821.6,111.2 823.2,106.1 824.7,97.8 826.7,87.5 828.8,76.2 830.5,71.0 831.9,76.2 834.0,78.2 836.0,81.3 838.1,89.6 840.1,99.9 841.8,102.0 843.2,94.7 844.7,91.6 846.3,91.6 848.4,80.3 850.0,79.3 851.5,80.3 853.6,75.1 854.7,69.3 856.2,74.4 857.8,78.6 859.3,86.8 861.3,98.2 863.4,99.2 864.9,107.5 866.5,119.8 868.2,133.2 869.3,138.3 870.7,140.5 872.0,145.9 873.3,155.0 875.1,166.9 877.5,174.1 879.3,179.6 881.1,182.7 882.4,175.0 883.8,161.4 885.3,150.5 886.6,149.6 887.9,155.0 889.7,166.0 891.1,162.3 892.9,153.2 894.8,138.6 895.8,121.9 897.5,99.2 898.9,80.6 900.1,67.2 901.6,80.6 903.2,88.9 905.3,97.1 907.4,109.5 908.9,265.0 909.6,240.0 911.5,157.8 912.6,156.8 913.9,165.0 915.7,180.5 917.5,190.5 919.4,201.7 921.7,213.3 924.3,209.4 926.2,210.4 929.1,200.7 930.1,231.7" fill="none" stroke="#64c468" stroke-width="1.25" stroke-linejoin="round"/>
</g>
<clipPath id="hc"><rect x="57" y="290.8" width="892" height="63.7"/></clipPath><g clip-path="url(#hc)"><rect x="50" y="290.8" width="906" height="63.7" fill="url(#hg)" filter="url(#hb)"/></g>
<text x="11.30" y="16.60" font-size="10.15" font-weight="bold" fill="#31333f" stroke="#31333f" stroke-width="0.1" textLength="368.00" lengthAdjust="spacingAndGlyphs">Deutschland: Renewable Energy &amp; Price Heat-Band (01.10.2025 - 31.10.2025)</text>
<text x="438.70" y="25.80" font-size="10.4" font-weight="normal" fill="#808495" stroke="#808495" stroke-width="0.25" textLength="128.10" lengthAdjust="spacingAndGlyphs">Renewable Generation (MW)</text>
<text x="466.90" y="286.00" font-size="10.0" font-weight="normal" fill="#808495" stroke="#808495" stroke-width="0.25" textLength="72.60" lengthAdjust="spacingAndGlyphs">Price Heat-Band</text>
<g transform="translate(25.1,190.1) rotate(-90)"><text x="0.00" y="0.00" font-size="9.7" font-weight="normal" fill="#808495" stroke="#808495" stroke-width="0.25" textLength="66.30" lengthAdjust="spacingAndGlyphs">MW (Solar/Wind)</text></g>
<line x1="172.6" y1="360.5" x2="172.6" y2="364.5" stroke="#e4e6ec" stroke-width="1"/>
<text x="163.80" y="374.40" font-size="8.4" font-weight="normal" fill="#808495" stroke="#808495" stroke-width="0.25" textLength="17.60" lengthAdjust="spacingAndGlyphs">Oct 5</text>
<line x1="373.9" y1="360.5" x2="373.9" y2="364.5" stroke="#e4e6ec" stroke-width="1"/>
<text x="363.15" y="374.40" font-size="8.4" font-weight="normal" fill="#808495" stroke="#808495" stroke-width="0.25" textLength="21.50" lengthAdjust="spacingAndGlyphs">Oct 12</text>
<line x1="575.2" y1="360.5" x2="575.2" y2="364.5" stroke="#e4e6ec" stroke-width="1"/>
<text x="564.45" y="374.40" font-size="8.4" font-weight="normal" fill="#808495" stroke="#808495" stroke-width="0.25" textLength="21.50" lengthAdjust="spacingAndGlyphs">Oct 19</text>
<line x1="776.5" y1="360.5" x2="776.5" y2="364.5" stroke="#e4e6ec" stroke-width="1"/>
<text x="765.75" y="374.40" font-size="8.4" font-weight="normal" fill="#808495" stroke="#808495" stroke-width="0.25" textLength="21.50" lengthAdjust="spacingAndGlyphs">Oct 26</text>
<text x="164.40" y="385.00" font-size="8.4" font-weight="normal" fill="#808495" stroke="#808495" stroke-width="0.25" textLength="16.20" lengthAdjust="spacingAndGlyphs">2025</text>
<text x="493.80" y="402.10" font-size="9.3" font-weight="normal" fill="#808495" stroke="#808495" stroke-width="0.25" textLength="18.20" lengthAdjust="spacingAndGlyphs">Date</text>
<text x="968.40" y="41.20" font-size="7.4" font-weight="normal" fill="#808495" stroke="#808495" stroke-width="0.25" textLength="23.30" lengthAdjust="spacingAndGlyphs">Source</text>
<rect x="969.8" y="50" width="21.2" height="3.8" fill="rgba(95,192,100,0.3)"/><line x1="969.8" y1="49.6" x2="991" y2="49.6" stroke="#5fc064" stroke-width="1.3"/>
<text x="994.10" y="54.30" font-size="7.6" font-weight="normal" fill="#3d3f4a" textLength="17.70" lengthAdjust="spacingAndGlyphs">Wind</text>
<rect x="969.8" y="63" width="21.2" height="3.8" fill="rgba(235,162,58,0.3)"/><line x1="969.8" y1="62.6" x2="991" y2="62.6" stroke="#eba23a" stroke-width="1.3"/>
<text x="994.30" y="67.20" font-size="7.6" font-weight="normal" fill="#3d3f4a" textLength="17.70" lengthAdjust="spacingAndGlyphs">Solar</text>
<text x="973.50" y="78.50" font-size="8.7" font-weight="normal" fill="#808495" stroke="#808495" stroke-width="0.25" textLength="27.60" lengthAdjust="spacingAndGlyphs">€/MWh</text>
<rect x="973.6" y="85.6" width="20.4" height="229.6" fill="url(#cg)" stroke="#6e7078" stroke-width="0.8"/>
<text x="996.50" y="307.50" font-size="7.0" font-weight="normal" fill="#808495" stroke="#808495" stroke-width="0.25" textLength="4.00" lengthAdjust="spacingAndGlyphs">0</text>
<text x="996.50" y="280.56" font-size="7.0" font-weight="normal" fill="#808495" stroke="#808495" stroke-width="0.25" textLength="8.00" lengthAdjust="spacingAndGlyphs">50</text>
<text x="996.50" y="253.62" font-size="7.0" font-weight="normal" fill="#808495" stroke="#808495" stroke-width="0.25" textLength="11.90" lengthAdjust="spacingAndGlyphs">100</text>
<text x="996.50" y="226.68" font-size="7.0" font-weight="normal" fill="#808495" stroke="#808495" stroke-width="0.25" textLength="11.90" lengthAdjust="spacingAndGlyphs">150</text>
<text x="996.50" y="199.74" font-size="7.0" font-weight="normal" fill="#808495" stroke="#808495" stroke-width="0.25" textLength="11.90" lengthAdjust="spacingAndGlyphs">200</text>
<text x="996.50" y="172.80" font-size="7.0" font-weight="normal" fill="#808495" stroke="#808495" stroke-width="0.25" textLength="11.90" lengthAdjust="spacingAndGlyphs">250</text>
<text x="996.50" y="145.86" font-size="7.0" font-weight="normal" fill="#808495" stroke="#808495" stroke-width="0.25" textLength="11.90" lengthAdjust="spacingAndGlyphs">300</text>
<text x="996.50" y="118.92" font-size="7.0" font-weight="normal" fill="#808495" stroke="#808495" stroke-width="0.25" textLength="11.90" lengthAdjust="spacingAndGlyphs">350</text>
<text x="996.50" y="91.98" font-size="7.0" font-weight="normal" fill="#808495" stroke="#808495" stroke-width="0.25" textLength="11.90" lengthAdjust="spacingAndGlyphs">400</text>
</svg></body></html>
